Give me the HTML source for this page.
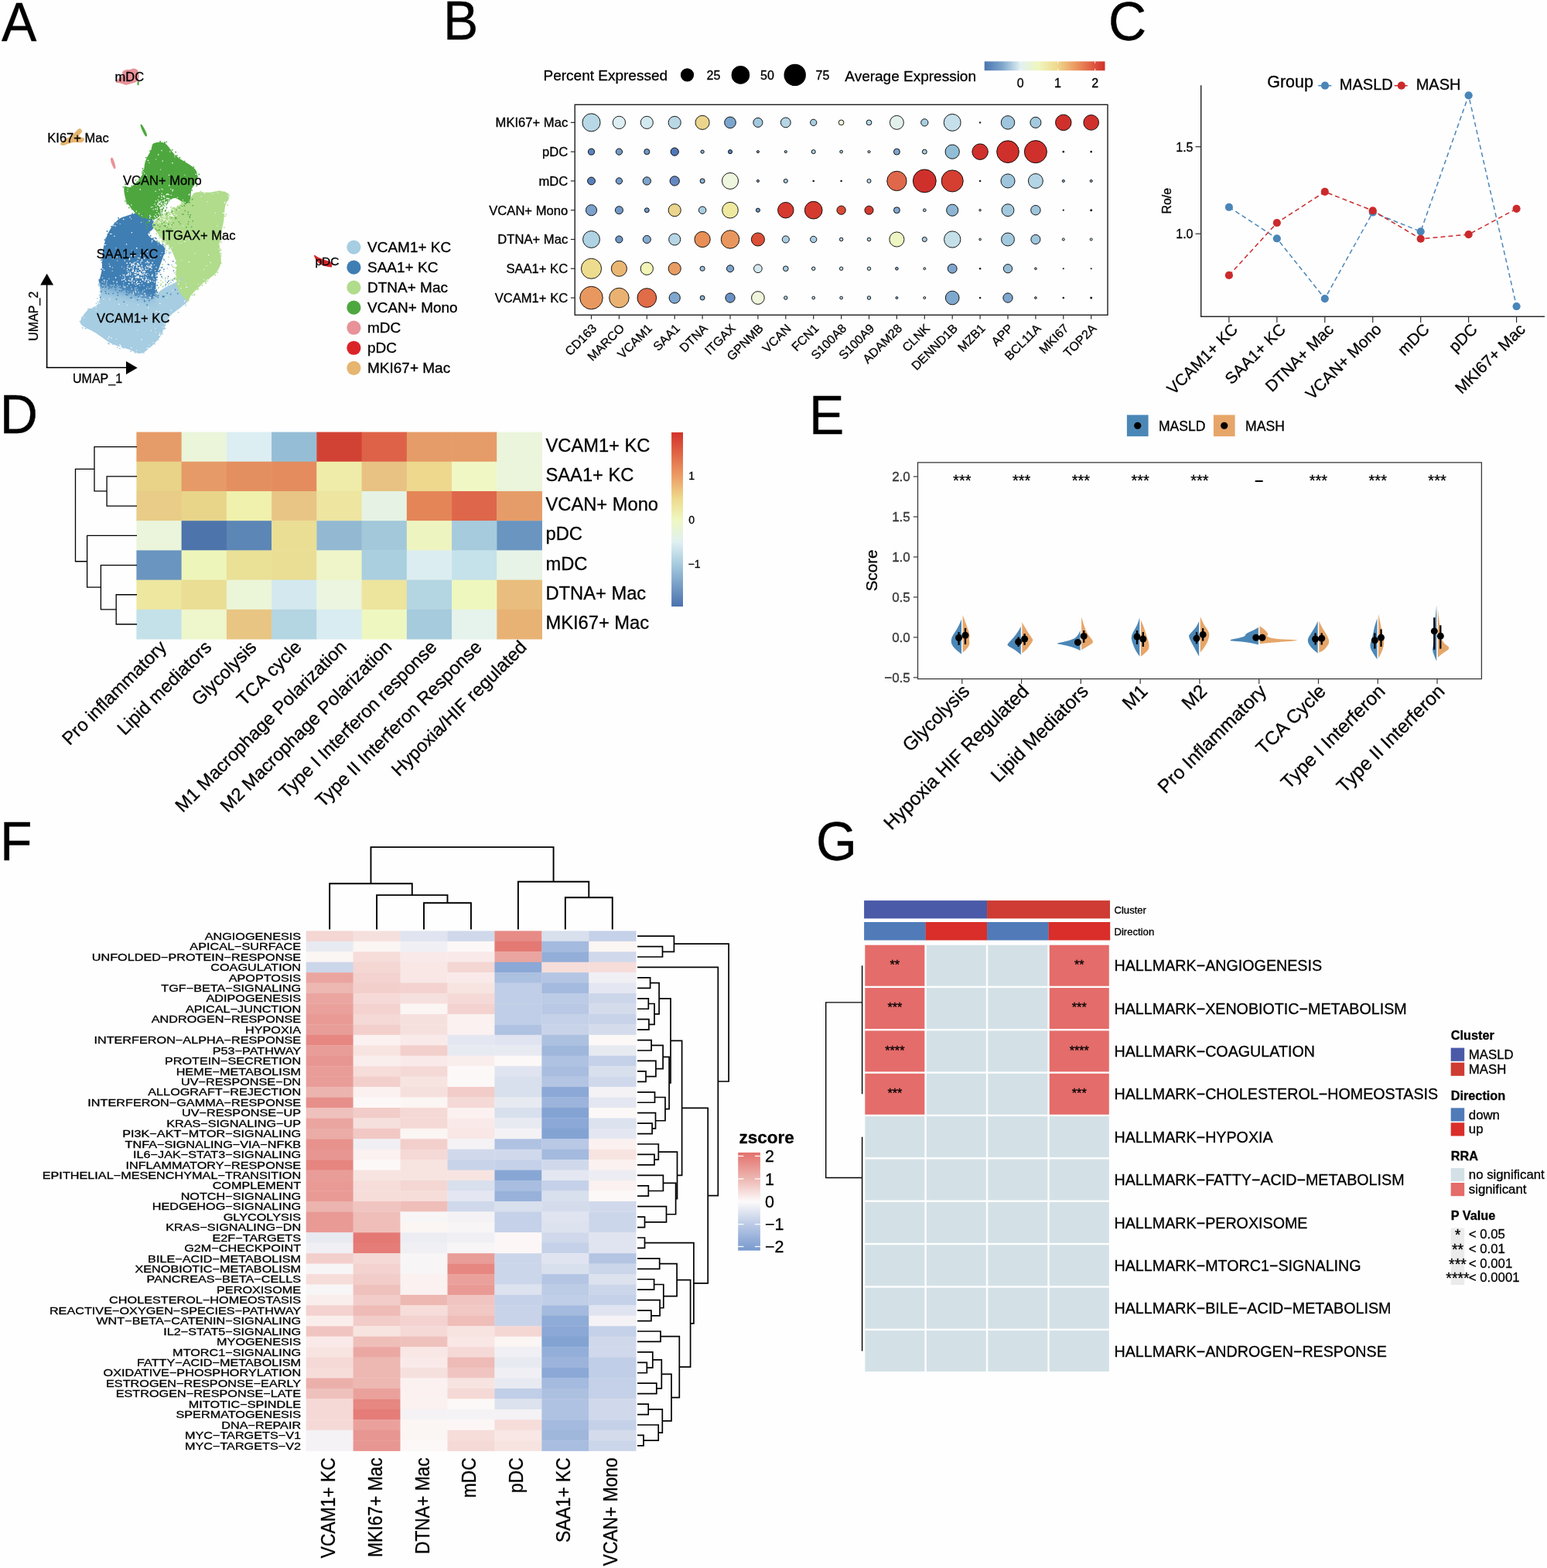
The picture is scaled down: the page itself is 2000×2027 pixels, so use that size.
<!DOCTYPE html>
<html><head><meta charset="utf-8"><title>Figure</title>
<style>html,body{margin:0;padding:0;background:#fff;}svg{display:block;}
text{font-family:'Liberation Sans', Arial, sans-serif;stroke:currentColor;stroke-width:0.3px;}</style></head>
<body><svg width="2000" height="2027" viewBox="0 0 2000 2027">
<rect width="2000" height="2027" fill="#fefefe"/>
<text transform="translate(2,52.8) scale(1,1.04)" font-size="68">A</text>
<text transform="translate(573,51.3) scale(1,1.04)" font-size="68">B</text>
<text transform="translate(1433,52) scale(1,1.04)" font-size="68">C</text>
<text transform="translate(-0.2,560.1) scale(1,1.04)" font-size="68">D</text>
<text transform="translate(1046,561.4) scale(1,1.04)" font-size="68">E</text>
<text transform="translate(0,1111.5) scale(1,1.04)" font-size="68">F</text>
<text transform="translate(1055,1111.5) scale(1,1.04)" font-size="68">G</text>
<path d="M129.86,362.83C133.18,360.71 142.84,364.34 149.78,366.45C156.73,368.56 164.58,372.19 171.52,375.51C178.47,378.83 186.32,385.47 191.45,386.38C196.58,387.28 199.6,382.75 202.32,380.94C205.04,379.13 204.73,377.62 207.75,375.51C210.77,373.39 215.91,370.37 220.43,368.26C224.96,366.15 231,362.22 234.93,362.83C238.85,363.43 242.17,368.56 243.99,371.88C245.8,375.21 246.7,379.13 245.8,382.75C244.89,386.38 242.78,389.4 238.55,393.62C234.32,397.85 224.66,403.29 220.43,408.12C216.21,412.95 215.6,417.78 213.19,422.61C210.77,427.44 209.57,432.27 205.94,437.1C202.32,441.93 195.68,448.27 191.45,451.59C187.22,454.92 184.81,457.03 180.58,457.03C176.35,457.03 172.13,453.71 166.09,451.59C160.05,449.48 151.59,447.97 144.35,444.35C137.1,440.72 128.95,433.78 122.61,429.86C116.27,425.93 109.32,423.51 106.3,420.8C103.29,418.08 103.29,416.87 104.49,413.55C105.7,410.23 109.93,404.19 113.55,400.87C117.17,397.55 123.51,397.25 126.23,393.62C128.95,390 129.25,384.26 129.86,379.13C130.46,374 126.53,364.94 129.86,362.83Z" fill="#a6cde2"/>
<path d="M162.46,279.49C167.29,277.98 175.14,275.57 180.58,275.87C186.01,276.17 192.05,278.29 195.07,281.3C198.09,284.32 199.3,290.36 198.7,293.99C198.09,297.61 190.85,300.02 191.45,303.04C192.05,306.06 198.7,309.08 202.32,312.1C205.94,315.12 211.98,317.23 213.19,321.16C214.4,325.08 211.38,329.61 209.57,335.65C207.75,341.69 203.83,349.54 202.32,357.39C200.81,365.24 202.32,377.92 200.51,382.75C198.7,387.58 195.37,386.68 191.45,386.38C187.52,386.07 181.79,382.75 176.96,380.94C172.13,379.13 167.9,377.62 162.46,375.51C157.03,373.39 149.93,369.62 144.35,368.26C138.76,366.9 131.06,370.68 128.95,367.36C126.84,364.03 130.91,356.03 131.67,348.33C132.42,340.63 131.97,329.31 133.48,321.16C134.99,313.01 137.71,305.46 140.72,299.42C143.74,293.38 147.97,288.25 151.59,284.93C155.22,281.61 157.63,281 162.46,279.49Z" fill="#3f7eb3"/>
<path d="M253.04,248.7C257.27,247.49 265.72,249 271.16,248.7C276.59,248.39 281.43,246.28 285.65,246.88C289.88,247.49 295.62,249 296.52,252.32C297.43,255.64 292.29,261.38 291.09,266.81C289.88,272.25 290.18,278.89 289.28,284.93C288.37,290.97 286.56,297 285.65,303.04C284.75,309.08 283.84,315.12 283.84,321.16C283.84,327.2 286.56,333.84 285.65,339.28C284.75,344.71 282.03,349.54 278.41,353.77C274.78,358 269.05,360.11 263.91,364.64C258.78,369.17 251.23,377.02 247.61,380.94C243.99,384.87 244.89,389.09 242.17,388.19C239.46,387.28 233.72,380.64 231.3,375.51C228.89,370.37 228.29,363.43 227.68,357.39C227.08,351.35 228.89,345.31 227.68,339.28C226.47,333.24 222.85,325.39 220.43,321.16C218.02,316.93 216.21,317.54 213.19,313.91C210.17,310.29 205.04,303.35 202.32,299.42C199.6,295.5 196.28,293.38 196.88,290.36C197.49,287.34 202.02,284.63 205.94,281.3C209.87,277.98 215.6,273.45 220.43,270.43C225.27,267.42 230.7,265.6 234.93,263.19C239.15,260.77 242.78,258.36 245.8,255.94C248.82,253.53 248.82,249.9 253.04,248.7Z" fill="#b0dc8c"/>
<path d="M198.7,185.29C201.71,183.78 208.36,182.57 213.19,185.29C218.02,188.01 221.64,196.46 227.68,201.59C233.72,206.73 244.89,212.16 249.42,216.09C253.95,220.01 254.25,221.82 254.86,225.14C255.46,228.47 254.25,232.69 253.04,236.01C251.84,239.34 248.82,241.45 247.61,245.07C246.4,248.7 247,254.73 245.8,257.75C244.59,260.77 243.68,263.49 240.36,263.19C237.04,262.89 229.79,255.94 225.87,255.94C221.94,255.94 219.83,259.57 216.81,263.19C213.79,266.81 210.77,274.36 207.75,277.68C204.73,281 203.22,282.81 198.7,283.12C194.17,283.42 185.71,282.21 180.58,279.49C175.45,276.78 170.92,270.43 167.9,266.81C164.88,263.19 163.67,261.98 162.46,257.75C161.26,253.53 159.44,244.17 160.65,241.45C161.86,238.73 165.79,244.17 169.71,241.45C173.64,238.73 181.18,230.58 184.2,225.14C187.22,219.71 186.01,213.97 187.83,208.84C189.64,203.71 193.26,198.27 195.07,194.35C196.88,190.42 195.68,186.8 198.7,185.29Z" fill="#4ea73e"/>
<defs><clipPath id="cvs"><path d="M129.86,362.83C133.18,360.71 142.84,364.34 149.78,366.45C156.73,368.56 164.58,372.19 171.52,375.51C178.47,378.83 186.32,385.47 191.45,386.38C196.58,387.28 199.6,382.75 202.32,380.94C205.04,379.13 204.73,377.62 207.75,375.51C210.77,373.39 215.91,370.37 220.43,368.26C224.96,366.15 231,362.22 234.93,362.83C238.85,363.43 242.17,368.56 243.99,371.88C245.8,375.21 246.7,379.13 245.8,382.75C244.89,386.38 242.78,389.4 238.55,393.62C234.32,397.85 224.66,403.29 220.43,408.12C216.21,412.95 215.6,417.78 213.19,422.61C210.77,427.44 209.57,432.27 205.94,437.1C202.32,441.93 195.68,448.27 191.45,451.59C187.22,454.92 184.81,457.03 180.58,457.03C176.35,457.03 172.13,453.71 166.09,451.59C160.05,449.48 151.59,447.97 144.35,444.35C137.1,440.72 128.95,433.78 122.61,429.86C116.27,425.93 109.32,423.51 106.3,420.8C103.29,418.08 103.29,416.87 104.49,413.55C105.7,410.23 109.93,404.19 113.55,400.87C117.17,397.55 123.51,397.25 126.23,393.62C128.95,390 129.25,384.26 129.86,379.13C130.46,374 126.53,364.94 129.86,362.83Z"/><path d="M162.46,279.49C167.29,277.98 175.14,275.57 180.58,275.87C186.01,276.17 192.05,278.29 195.07,281.3C198.09,284.32 199.3,290.36 198.7,293.99C198.09,297.61 190.85,300.02 191.45,303.04C192.05,306.06 198.7,309.08 202.32,312.1C205.94,315.12 211.98,317.23 213.19,321.16C214.4,325.08 211.38,329.61 209.57,335.65C207.75,341.69 203.83,349.54 202.32,357.39C200.81,365.24 202.32,377.92 200.51,382.75C198.7,387.58 195.37,386.68 191.45,386.38C187.52,386.07 181.79,382.75 176.96,380.94C172.13,379.13 167.9,377.62 162.46,375.51C157.03,373.39 149.93,369.62 144.35,368.26C138.76,366.9 131.06,370.68 128.95,367.36C126.84,364.03 130.91,356.03 131.67,348.33C132.42,340.63 131.97,329.31 133.48,321.16C134.99,313.01 137.71,305.46 140.72,299.42C143.74,293.38 147.97,288.25 151.59,284.93C155.22,281.61 157.63,281 162.46,279.49Z"/></clipPath><linearGradient id="gT" gradientUnits="userSpaceOnUse" x1="166.47" y1="368.32" x2="161.22" y2="392.77"><stop offset="0" stop-color="#3f7eb3" stop-opacity="0"/><stop offset="0.25" stop-color="#5a92c1" stop-opacity="0.55"/><stop offset="0.45" stop-color="#77a9d0" stop-opacity="0.75"/><stop offset="1" stop-color="#a6cde2" stop-opacity="0"/></linearGradient></defs>
<defs><linearGradient id="gM" gradientUnits="userSpaceOnUse" x1="188" y1="0" x2="204" y2="0"><stop offset="0" stop-color="#fff"/><stop offset="1" stop-color="#000"/></linearGradient><mask id="mT" maskUnits="userSpaceOnUse" x="100" y="330" width="130" height="90"><rect x="100" y="330" width="130" height="90" fill="url(#gM)"/></mask></defs>
<g mask="url(#mT)"><path clip-path="url(#cvs)" fill="url(#gT)" d="M124,358.35 L205,375.76 L205,403.76 L124,386.35 Z"/></g>
<path fill="#a6cde2" d="M150.46,363.4h1.6v1.6h-1.6zM139.22,442.74h1.6v1.6h-1.6zM216.79,368.87h1.6v1.6h-1.6zM102.6,414.65h1.6v1.6h-1.6zM174.36,376.21h1.6v1.6h-1.6zM113.09,398.86h1.6v1.6h-1.6zM134.02,361.21h1.6v1.6h-1.6zM150.19,364.37h1.6v1.6h-1.6zM244.17,370.89h1.6v1.6h-1.6zM133.55,361.51h1.6v1.6h-1.6zM127.66,380.85h1.6v1.6h-1.6zM238.78,391.68h1.6v1.6h-1.6zM154.08,449.7h1.6v1.6h-1.6zM114.83,398.43h1.6v1.6h-1.6zM105.78,423.07h1.6v1.6h-1.6zM238.63,364.72h1.6v1.6h-1.6zM125.77,389.65h1.6v1.6h-1.6zM134.38,361.99h1.6v1.6h-1.6zM203.78,438.45h1.6v1.6h-1.6zM158.61,449.03h1.6v1.6h-1.6zM232.34,360.6h1.6v1.6h-1.6zM123.72,391.56h1.6v1.6h-1.6zM193.7,383.58h1.6v1.6h-1.6zM169.43,372.79h1.6v1.6h-1.6zM199.03,443.93h1.6v1.6h-1.6zM110.95,423.13h1.6v1.6h-1.6zM233.7,361.49h1.6v1.6h-1.6zM217.13,415.47h1.6v1.6h-1.6zM168.46,453.31h1.6v1.6h-1.6zM216.84,415.96h1.6v1.6h-1.6zM128.41,376.49h1.6v1.6h-1.6zM137.62,361.9h1.6v1.6h-1.6zM126.68,366.58h1.6v1.6h-1.6zM247.76,380.69h1.6v1.6h-1.6zM212.85,368.8h1.6v1.6h-1.6zM140.17,443.83h1.6v1.6h-1.6zM199.47,379.61h1.6v1.6h-1.6zM178.31,377.02h1.6v1.6h-1.6zM126.92,368.52h1.6v1.6h-1.6zM229.78,402.99h1.6v1.6h-1.6zM235.65,359.12h1.6v1.6h-1.6zM145.15,444.1h1.6v1.6h-1.6zM161.07,370.44h1.6v1.6h-1.6zM213.09,368.93h1.6v1.6h-1.6zM220.12,364.37h1.6v1.6h-1.6zM124.99,385.27h1.6v1.6h-1.6zM192.29,383.51h1.6v1.6h-1.6zM173.68,455.09h1.6v1.6h-1.6zM139.96,443.37h1.6v1.6h-1.6zM209.29,430.85h1.6v1.6h-1.6zM239.42,393.95h1.6v1.6h-1.6zM174.27,374.12h1.6v1.6h-1.6zM128.87,366.72h1.6v1.6h-1.6zM184.96,455.41h1.6v1.6h-1.6zM150.97,448.49h1.6v1.6h-1.6zM158.87,369.7h1.6v1.6h-1.6zM211.57,424.35h1.6v1.6h-1.6zM109.46,423.99h1.6v1.6h-1.6zM213.04,423.71h1.6v1.6h-1.6zM105.35,409.62h1.6v1.6h-1.6zM163.97,368.74h1.6v1.6h-1.6zM224.55,368.22h1.5v1.5h-1.5zM223.58,376.09h1.5v1.5h-1.5zM218,341.52h1.5v1.5h-1.5zM206.71,345.09h1.5v1.5h-1.5zM200.85,375.83h1.5v1.5h-1.5zM231.14,382.51h1.5v1.5h-1.5zM209.71,369.92h1.5v1.5h-1.5zM216.24,374.89h1.5v1.5h-1.5zM203.79,382.72h1.5v1.5h-1.5zM224.89,352.02h1.5v1.5h-1.5zM218.91,380.52h1.5v1.5h-1.5zM217.66,362.28h1.5v1.5h-1.5zM213.24,362.49h1.5v1.5h-1.5zM219.39,325.47h1.5v1.5h-1.5zM213.55,381.68h1.5v1.5h-1.5zM212.67,318.03h1.5v1.5h-1.5zM206.81,368.02h1.5v1.5h-1.5zM209.31,344.28h1.5v1.5h-1.5zM228.78,371.06h1.5v1.5h-1.5zM210.39,333.52h1.5v1.5h-1.5zM218.04,327.08h1.5v1.5h-1.5zM210.99,349.91h1.5v1.5h-1.5zM204.79,312.16h1.5v1.5h-1.5zM217.83,321.14h1.5v1.5h-1.5zM213.05,337.26h1.5v1.5h-1.5zM212.82,359.69h1.5v1.5h-1.5zM205.84,351.65h1.5v1.5h-1.5zM224.14,375.11h1.5v1.5h-1.5zM216,359.57h1.5v1.5h-1.5zM207.01,348.46h1.5v1.5h-1.5zM209.52,313.03h1.5v1.5h-1.5zM214.25,325.64h1.5v1.5h-1.5zM203.59,371.71h1.5v1.5h-1.5zM215.61,346.03h1.5v1.5h-1.5zM228.91,380.02h1.5v1.5h-1.5zM208.83,358.48h1.5v1.5h-1.5zM226.04,339.05h1.5v1.5h-1.5zM212.29,373.79h1.5v1.5h-1.5zM208.79,344.98h1.5v1.5h-1.5zM223.32,362.78h1.5v1.5h-1.5zM221.03,341.7h1.5v1.5h-1.5zM224.76,367.51h1.5v1.5h-1.5zM203.88,364.39h1.5v1.5h-1.5zM202.96,312.01h1.5v1.5h-1.5zM217.44,376.94h1.5v1.5h-1.5zM220.15,325.96h1.5v1.5h-1.5zM202.56,378.72h1.5v1.5h-1.5zM174.99,367.93h1.4v1.4h-1.4zM194.6,380.71h1.4v1.4h-1.4zM175.53,371.28h1.4v1.4h-1.4zM185.99,374.14h1.4v1.4h-1.4zM183.38,376.9h1.4v1.4h-1.4zM152.44,369.64h1.4v1.4h-1.4zM160.62,371.15h1.4v1.4h-1.4zM159.02,364.93h1.4v1.4h-1.4zM184.19,375.15h1.4v1.4h-1.4zM173.45,366.23h1.4v1.4h-1.4zM131.78,358.37h1.4v1.4h-1.4zM192.3,372.24h1.4v1.4h-1.4zM150.95,367.84h1.4v1.4h-1.4zM140.24,359.58h1.4v1.4h-1.4zM180.02,368.64h1.4v1.4h-1.4zM146.88,367.51h1.4v1.4h-1.4zM160.9,370.03h1.4v1.4h-1.4zM154.57,369.15h1.4v1.4h-1.4zM195.69,369.12h1.4v1.4h-1.4zM159.7,370.35h1.4v1.4h-1.4zM131.59,363.58h1.4v1.4h-1.4zM177.03,373.78h1.4v1.4h-1.4zM185.29,368.52h1.4v1.4h-1.4zM194.61,371.87h1.4v1.4h-1.4zM144.56,349.72h1.4v1.4h-1.4z"/>
<path fill="#ffffff" d="M189.73,449.43h1.3v1.3h-1.3zM128.65,411.06h1v1h-1zM191.15,397.18h1.3v1.3h-1.3zM123.81,400.66h1v1h-1zM235.47,394.52h1v1h-1zM205.91,431.77h1v1h-1zM133.23,371.83h1v1h-1zM188.46,413.26h1v1h-1zM179.56,384.9h1v1h-1zM169.1,448.92h1.3v1.3h-1.3zM200.93,429.08h1v1h-1zM210.18,422.28h1v1h-1zM220.53,400.45h1.3v1.3h-1.3zM159.5,406.07h1.3v1.3h-1.3zM126.91,411.99h1v1h-1zM154.75,447.23h1.3v1.3h-1.3zM127.96,391.56h1.3v1.3h-1.3zM191.55,449.6h1.3v1.3h-1.3zM229.95,366.32h1.3v1.3h-1.3zM197.45,442.22h1v1h-1zM140.54,434.84h1.3v1.3h-1.3zM141.51,385.25h1v1h-1zM210.5,426.2h1v1h-1zM205.99,432.11h1.3v1.3h-1.3zM182.25,438.23h1.3v1.3h-1.3zM108,409.87h1v1h-1zM238.87,388.11h1v1h-1zM206.09,430.11h1v1h-1zM201.53,401.84h1.3v1.3h-1.3zM155.41,445.63h1v1h-1zM133.57,386.06h1v1h-1zM222.88,374.93h1v1h-1zM206.85,412.37h1v1h-1zM192.25,445.73h1v1h-1zM154.1,445.28h1v1h-1zM176.03,452.46h1v1h-1zM182.96,381.82h1.3v1.3h-1.3zM177.42,426.16h1v1h-1zM153.09,392.74h1.3v1.3h-1.3zM150.05,438.03h1v1h-1zM164.05,394.07h1v1h-1zM240.55,370.62h1.3v1.3h-1.3zM237.81,388.96h1.3v1.3h-1.3zM138.93,437.16h1.3v1.3h-1.3zM117.92,397.73h1.3v1.3h-1.3zM171.6,378.55h1.3v1.3h-1.3zM143.5,436.51h1.3v1.3h-1.3zM172.04,379.28h1v1h-1zM194.93,427.04h1v1h-1zM123.53,396.51h1.3v1.3h-1.3zM155.95,447.36h1v1h-1zM132.16,368.57h1v1h-1zM233.1,371.98h1.3v1.3h-1.3zM187.52,386.04h1.3v1.3h-1.3zM137.39,364.58h1v1h-1zM171.66,386.68h1v1h-1zM141.3,387.34h1v1h-1zM215.65,383.96h1.3v1.3h-1.3zM193.42,384.87h1.3v1.3h-1.3zM177.73,393.59h1v1h-1zM198.31,383.08h1.3v1.3h-1.3zM206.25,391.82h1.3v1.3h-1.3zM155.21,446.27h1v1h-1zM200.45,424.47h1v1h-1zM136.08,368.98h1v1h-1zM205.23,402.62h1.3v1.3h-1.3zM205.14,432.67h1.3v1.3h-1.3zM212.46,417.95h1.3v1.3h-1.3zM154.68,289h1v1h-1zM150.55,331.5h1.3v1.3h-1.3zM184.12,347.09h1.3v1.3h-1.3zM148.67,291.46h1.3v1.3h-1.3zM201.06,352.14h1.3v1.3h-1.3zM137.31,328.86h1v1h-1zM135.55,315.74h1.3v1.3h-1.3zM177.65,332.76h1v1h-1zM146.02,363.16h1.3v1.3h-1.3zM169.76,300.02h1.3v1.3h-1.3zM147.21,304.63h1.3v1.3h-1.3zM142.17,301.76h1.3v1.3h-1.3zM169.15,282.58h1v1h-1zM158.34,354.58h1v1h-1zM175.81,342.61h1v1h-1zM175,376.71h1.3v1.3h-1.3zM192.53,284.87h1.3v1.3h-1.3zM198.83,341.88h1v1h-1zM146.5,290.96h1.3v1.3h-1.3zM207.31,329.74h1v1h-1zM182.08,287.11h1v1h-1zM160.65,336.24h1.3v1.3h-1.3zM134.52,316.21h1v1h-1zM162.9,315.18h1.3v1.3h-1.3zM204.15,315.58h1v1h-1zM144.88,345.56h1v1h-1zM159.08,282.86h1.3v1.3h-1.3zM145.64,333.74h1.3v1.3h-1.3zM132.11,347.02h1.3v1.3h-1.3zM193.31,281.64h1v1h-1zM167.37,279.92h1.3v1.3h-1.3zM199.04,363.86h1.3v1.3h-1.3zM134.22,364.55h1v1h-1zM151.1,336.59h1v1h-1zM187.53,381.4h1.3v1.3h-1.3zM150.7,287.65h1v1h-1zM137.35,366.42h1v1h-1zM191.65,338.84h1.3v1.3h-1.3zM209.02,325.9h1v1h-1zM181.45,381.32h1v1h-1zM196,310.58h1.3v1.3h-1.3zM149.5,320.14h1v1h-1zM140.65,340.76h1v1h-1zM143.59,302.03h1v1h-1zM133.95,348.75h1.3v1.3h-1.3zM195.71,312.56h1v1h-1zM221.21,279.25h1.3v1.3h-1.3zM211.72,283.01h1v1h-1zM290.35,260.7h1.3v1.3h-1.3zM259.69,253.18h1v1h-1zM231.51,362.72h1v1h-1zM280.35,291.45h1v1h-1zM271.66,338.77h1.3v1.3h-1.3zM215.59,284.77h1.3v1.3h-1.3zM233.07,372.28h1v1h-1zM227.7,342.86h1.3v1.3h-1.3zM236.6,291.62h1v1h-1zM247.56,257.02h1v1h-1zM213.32,312.08h1.3v1.3h-1.3zM221.95,320.05h1v1h-1zM243.85,309.28h1.3v1.3h-1.3zM277.02,306.17h1.3v1.3h-1.3zM240.27,307.92h1v1h-1zM264.44,249.85h1v1h-1zM263.57,248.32h1.3v1.3h-1.3zM277.81,274.64h1v1h-1zM239.7,366.24h1v1h-1zM238.3,311.72h1.3v1.3h-1.3zM267.6,260.19h1v1h-1zM246.59,307.72h1v1h-1zM289.63,261.91h1v1h-1zM283.06,315.24h1.3v1.3h-1.3zM251.71,326.94h1v1h-1zM266.8,342.94h1v1h-1zM263.52,360.39h1v1h-1zM238.64,260.92h1.3v1.3h-1.3zM288.43,274.67h1.3v1.3h-1.3zM287.82,274.84h1.3v1.3h-1.3zM283.24,313.57h1v1h-1zM274.39,249.91h1v1h-1zM280.86,248.75h1v1h-1zM234.47,335.67h1v1h-1zM282.11,321.7h1v1h-1zM243.64,338.06h1.3v1.3h-1.3zM294.53,252.83h1.3v1.3h-1.3zM216.88,315.96h1.3v1.3h-1.3zM220,291.6h1v1h-1zM233.64,314.04h1v1h-1zM255.69,366.75h1v1h-1zM227.01,335.89h1v1h-1zM230.22,313.55h1v1h-1zM269.04,328.95h1.3v1.3h-1.3zM263.23,348h1v1h-1zM225.85,267.06h1v1h-1zM236.3,261.75h1v1h-1zM207.1,218.68h1v1h-1zM252.7,224.71h1.3v1.3h-1.3zM198.86,278.88h1.3v1.3h-1.3zM188.41,225.96h1.3v1.3h-1.3zM190.81,206.87h1.3v1.3h-1.3zM204.03,199.33h1.3v1.3h-1.3zM217.87,225.81h1.3v1.3h-1.3zM186.04,223.42h1.3v1.3h-1.3zM192.54,210.03h1v1h-1zM178.2,233.03h1.3v1.3h-1.3zM209.62,207.54h1.3v1.3h-1.3zM208.42,193.98h1.3v1.3h-1.3zM222.26,210.12h1.3v1.3h-1.3zM218.08,239.08h1.3v1.3h-1.3zM182.99,278.33h1v1h-1zM179,275.51h1.3v1.3h-1.3zM243.7,251.26h1.3v1.3h-1.3zM193.61,237.26h1v1h-1zM238.45,225.64h1v1h-1zM225.34,202.52h1v1h-1zM180.6,244.33h1.3v1.3h-1.3zM209.92,244.73h1v1h-1zM200.11,280.41h1.3v1.3h-1.3zM221.84,230.19h1.3v1.3h-1.3zM222.66,246.78h1v1h-1zM244.24,250.44h1.3v1.3h-1.3zM192.75,279.78h1v1h-1zM175.69,272.57h1.3v1.3h-1.3zM207.47,271.72h1v1h-1zM225.12,200.22h1v1h-1zM180.99,228.7h1v1h-1zM164.68,243.93h1v1h-1zM235.92,257.92h1v1h-1zM175.97,238.7h1v1h-1zM193.2,280.54h1v1h-1zM194.08,279.06h1.3v1.3h-1.3zM164.38,246.86h1v1h-1zM219.04,195.39h1.3v1.3h-1.3zM169.15,264.19h1.3v1.3h-1.3zM201.15,205.51h1v1h-1zM178.29,358.77h0.9v0.9h-0.9zM173.13,329.97h0.9v0.9h-0.9zM170.74,356.54h0.9v0.9h-0.9zM187.68,339.03h1.2v1.2h-1.2zM141.45,343.7h1.5v1.5h-1.5zM192.72,344.84h1.2v1.2h-1.2zM182.17,349.2h1.5v1.5h-1.5zM190.64,353.01h0.9v0.9h-0.9zM187.53,347.37h1.5v1.5h-1.5zM172.95,338.77h1.5v1.5h-1.5zM160.61,357.6h1.2v1.2h-1.2zM167.73,351.47h1.2v1.2h-1.2zM181.28,328.94h1.5v1.5h-1.5zM165.91,349.99h0.9v0.9h-0.9zM188.81,358.4h1.2v1.2h-1.2zM167.43,339.26h1.5v1.5h-1.5zM177.68,353.12h0.9v0.9h-0.9zM168.91,345.69h1.2v1.2h-1.2zM173.48,354.65h1.2v1.2h-1.2zM180.12,366.21h0.9v0.9h-0.9zM166.77,333.82h1.5v1.5h-1.5zM176.53,337.97h0.9v0.9h-0.9zM180.91,362.99h1.2v1.2h-1.2zM186.27,349.83h1.2v1.2h-1.2zM170.55,350.46h1.2v1.2h-1.2zM191.68,338.8h1.5v1.5h-1.5zM201.38,344.94h1.2v1.2h-1.2zM145.3,331.96h1.5v1.5h-1.5zM190.59,341.46h0.9v0.9h-0.9zM168.81,370.29h0.9v0.9h-0.9zM195.3,349.16h0.9v0.9h-0.9zM193.45,361.39h0.9v0.9h-0.9zM177.93,345.75h0.9v0.9h-0.9zM171.62,344.13h1.5v1.5h-1.5zM198.82,360.73h0.9v0.9h-0.9zM192.32,343.23h1.2v1.2h-1.2zM182.8,358.4h1.2v1.2h-1.2zM186.05,350.13h0.9v0.9h-0.9zM181.22,353.13h1.5v1.5h-1.5zM171.75,349.74h1.2v1.2h-1.2zM163.42,339.4h1.5v1.5h-1.5zM183.54,353.12h0.9v0.9h-0.9zM165.37,352.72h1.5v1.5h-1.5zM189.01,372.41h1.2v1.2h-1.2zM187.46,357.5h1.2v1.2h-1.2zM157.17,344.62h0.9v0.9h-0.9zM177.79,358.03h1.2v1.2h-1.2zM169.26,343.06h1.2v1.2h-1.2zM191.85,364.64h1.2v1.2h-1.2zM176.89,366.54h1.5v1.5h-1.5zM171.63,349.23h1.2v1.2h-1.2zM164.87,342.76h1.2v1.2h-1.2zM187.44,360.97h0.9v0.9h-0.9zM178.09,349.17h1.2v1.2h-1.2zM173.22,351.15h1.5v1.5h-1.5zM176.4,356.63h1.2v1.2h-1.2zM165.07,350.9h0.9v0.9h-0.9zM197.05,363.04h0.9v0.9h-0.9zM181.82,358.34h1.5v1.5h-1.5zM176.5,352.64h1.2v1.2h-1.2zM171.8,344.95h1.2v1.2h-1.2zM160.96,359.84h1.2v1.2h-1.2zM163.89,344.84h1.2v1.2h-1.2zM179.29,351.89h1.5v1.5h-1.5zM176.18,343.14h1.5v1.5h-1.5zM165.81,361.86h1.5v1.5h-1.5zM187.21,362.95h1.2v1.2h-1.2zM194.35,333.65h1.2v1.2h-1.2zM190.31,364.68h1.2v1.2h-1.2zM175.03,358.48h1.2v1.2h-1.2zM166.81,347h1.2v1.2h-1.2zM168.96,330.73h0.9v0.9h-0.9zM177.47,336.25h1.2v1.2h-1.2zM189.71,337.16h1.5v1.5h-1.5zM185.29,355.49h0.9v0.9h-0.9zM185.52,350.33h1.2v1.2h-1.2zM196.32,338.73h1.5v1.5h-1.5zM198.59,334.62h0.9v0.9h-0.9zM180.08,346.53h1.2v1.2h-1.2zM189.83,337.97h1.5v1.5h-1.5zM174.94,354.48h1.5v1.5h-1.5zM201.17,354.79h1.2v1.2h-1.2zM169.08,329.36h1.5v1.5h-1.5zM182.95,365.45h1.2v1.2h-1.2zM159.99,346.68h0.9v0.9h-0.9zM166.61,334.96h1.2v1.2h-1.2zM190.97,347.48h0.9v0.9h-0.9zM164,349.75h0.9v0.9h-0.9zM167.18,346.15h1.2v1.2h-1.2zM183.92,350.66h1.5v1.5h-1.5zM171.49,348.71h1.5v1.5h-1.5zM177.22,351.94h0.9v0.9h-0.9zM173.92,354.36h0.9v0.9h-0.9zM165,354.55h1.5v1.5h-1.5zM164.65,354.12h0.9v0.9h-0.9zM177.28,342.68h0.9v0.9h-0.9zM175.52,360.85h0.9v0.9h-0.9zM185.62,352.9h1.5v1.5h-1.5zM203.2,352.16h0.9v0.9h-0.9zM176.68,358.26h1.2v1.2h-1.2zM183.26,346.42h0.9v0.9h-0.9zM172.19,340.37h1.2v1.2h-1.2zM167.62,362.68h1.2v1.2h-1.2zM171.06,341.92h0.9v0.9h-0.9zM163.83,347.78h1.2v1.2h-1.2zM181.83,347.21h1.5v1.5h-1.5zM190.14,355.67h0.9v0.9h-0.9zM169.64,362.54h1.5v1.5h-1.5zM201.05,356.72h1.2v1.2h-1.2zM194.3,342.37h1.2v1.2h-1.2zM170.06,323.46h0.9v0.9h-0.9zM188.75,353.12h0.9v0.9h-0.9zM193.93,362.76h1.5v1.5h-1.5zM172.72,362.7h1.5v1.5h-1.5zM186.58,350h1.5v1.5h-1.5zM181.82,358.23h0.9v0.9h-0.9zM191.42,345.4h1.2v1.2h-1.2zM175.08,348.59h1.5v1.5h-1.5zM176.28,364.12h1.2v1.2h-1.2zM177.85,340.36h1.5v1.5h-1.5zM159.64,355.05h1.5v1.5h-1.5zM179.43,344.97h1.5v1.5h-1.5zM183.18,336.73h1.2v1.2h-1.2zM179.14,357.63h0.9v0.9h-0.9zM168.23,352.9h1.2v1.2h-1.2zM188.04,360.24h0.9v0.9h-0.9zM195.34,345.95h1.5v1.5h-1.5zM184.82,358.17h1.2v1.2h-1.2zM185.98,332.94h1.5v1.5h-1.5zM190.59,328.66h0.9v0.9h-0.9zM189.15,347.88h1.2v1.2h-1.2zM183.52,359.96h1.5v1.5h-1.5zM180.48,351.17h1.5v1.5h-1.5zM167.74,354.36h1.5v1.5h-1.5zM159.33,360.51h1.5v1.5h-1.5zM174.88,352.09h1.2v1.2h-1.2zM183.88,361.04h1.5v1.5h-1.5zM184.07,346.81h1.2v1.2h-1.2zM171.2,346.91h1.5v1.5h-1.5zM167.35,358.61h1.2v1.2h-1.2zM157.88,358.13h0.9v0.9h-0.9zM178.91,358.45h1.2v1.2h-1.2zM181.99,355.05h1.2v1.2h-1.2zM174.71,357.68h1.2v1.2h-1.2zM192.31,355.21h0.9v0.9h-0.9zM182.96,344.43h1.2v1.2h-1.2zM170.32,359h1.2v1.2h-1.2zM173.45,353.88h0.9v0.9h-0.9zM171.86,376.77h0.9v0.9h-0.9zM195.84,342.39h1.2v1.2h-1.2zM185.28,354.87h0.9v0.9h-0.9zM194.39,343.95h1.2v1.2h-1.2zM177.98,357.02h0.9v0.9h-0.9zM165.94,366.04h1.5v1.5h-1.5zM156.93,361.34h1.5v1.5h-1.5zM161.62,362.39h1.5v1.5h-1.5zM181.48,340.06h0.9v0.9h-0.9zM199.96,373.77h0.9v0.9h-0.9zM188.12,353.91h1.5v1.5h-1.5zM174.36,330.07h0.9v0.9h-0.9zM182.88,331.75h0.9v0.9h-0.9zM176.92,362.96h1.2v1.2h-1.2zM165.3,345.79h1.2v1.2h-1.2zM175.98,319.95h1.5v1.5h-1.5zM159.31,368.2h0.9v0.9h-0.9zM181.94,337.11h0.9v0.9h-0.9zM188.58,360h1.5v1.5h-1.5zM169.67,360.37h1.5v1.5h-1.5zM181.36,353.03h1.5v1.5h-1.5zM186.46,351.63h1.2v1.2h-1.2zM179.98,354.05h1.5v1.5h-1.5zM190.07,343.8h1.5v1.5h-1.5zM186.24,353.32h0.9v0.9h-0.9zM180.56,352.63h1.5v1.5h-1.5zM175.15,338.55h0.9v0.9h-0.9zM183.06,354.48h1.5v1.5h-1.5zM174.68,328.18h1.5v1.5h-1.5zM187.43,344.98h1.2v1.2h-1.2zM170.36,361.17h1.2v1.2h-1.2zM180.14,347.77h1.2v1.2h-1.2zM177.07,339.99h1.2v1.2h-1.2zM148.84,358.17h1.5v1.5h-1.5zM169.48,341.67h1.5v1.5h-1.5zM181.11,338.2h1.2v1.2h-1.2zM170.32,349.72h1.2v1.2h-1.2zM189.84,324.71h1.2v1.2h-1.2zM164.97,355.54h0.9v0.9h-0.9zM178.05,355.94h1.5v1.5h-1.5zM178.95,351.59h1.5v1.5h-1.5zM190.93,363.26h1.5v1.5h-1.5zM191.54,360.48h0.9v0.9h-0.9zM189.08,343h1.2v1.2h-1.2zM173.23,342.13h1.5v1.5h-1.5zM177.47,352.45h1.2v1.2h-1.2zM174.16,371.99h0.9v0.9h-0.9zM181.23,358.44h1.2v1.2h-1.2zM186.02,362.85h0.9v0.9h-0.9zM169.14,346.07h0.9v0.9h-0.9zM177.45,342.35h0.9v0.9h-0.9zM170.15,365.05h1.5v1.5h-1.5zM190.54,370.4h0.9v0.9h-0.9zM176.71,357.54h0.9v0.9h-0.9zM175.13,350.55h1.5v1.5h-1.5zM172.23,340.79h0.9v0.9h-0.9zM170.46,358.88h1.5v1.5h-1.5zM167.75,339.59h0.9v0.9h-0.9zM182.76,334.87h1.5v1.5h-1.5zM178.86,341.85h1.5v1.5h-1.5zM178.48,366h1.2v1.2h-1.2zM193.67,344.74h1.5v1.5h-1.5zM186.46,378.83h1.5v1.5h-1.5zM195.89,355.97h1.5v1.5h-1.5zM190.62,361.23h1.2v1.2h-1.2zM176.06,344.9h1.5v1.5h-1.5zM177.32,341.14h0.9v0.9h-0.9zM181.27,347.85h1.2v1.2h-1.2zM164.02,339.67h0.9v0.9h-0.9zM184.89,349.68h0.9v0.9h-0.9zM180.28,344.92h1.5v1.5h-1.5zM171.87,341.2h1.5v1.5h-1.5zM196.21,354.41h1.5v1.5h-1.5zM200.01,349.25h1.2v1.2h-1.2zM193.25,362.29h1.2v1.2h-1.2zM179.1,333.02h1.5v1.5h-1.5zM162.92,355.1h1.5v1.5h-1.5zM162.58,329.36h1.5v1.5h-1.5zM179.95,352.05h0.9v0.9h-0.9zM194.18,349.59h0.9v0.9h-0.9zM182.67,342.61h1.5v1.5h-1.5zM179.14,341.97h1.2v1.2h-1.2zM194.65,341.64h1.5v1.5h-1.5zM154.9,355.77h0.9v0.9h-0.9zM176.19,357.01h1.5v1.5h-1.5zM169.92,340.31h1.5v1.5h-1.5zM183.99,361.29h1.5v1.5h-1.5zM187.82,361.67h1.2v1.2h-1.2zM197.8,359.55h0.9v0.9h-0.9zM175.91,365.06h1.2v1.2h-1.2zM177.72,340.36h1.2v1.2h-1.2zM211.59,266.77h1.2v1.2h-1.2zM216.71,250.19h1.2v1.2h-1.2zM220.92,278.24h1.2v1.2h-1.2zM218.52,271.72h1.2v1.2h-1.2zM212.41,272.49h1.2v1.2h-1.2zM200.58,246.83h1.2v1.2h-1.2zM196.65,266.92h1.2v1.2h-1.2zM213.05,272.1h1.2v1.2h-1.2zM210.82,283.7h1.2v1.2h-1.2zM210.41,274.78h1.2v1.2h-1.2zM220.01,258.47h1.2v1.2h-1.2zM202.13,278.46h1.2v1.2h-1.2zM216.34,272.1h1.2v1.2h-1.2zM207.36,260.34h1.2v1.2h-1.2zM208.26,252.28h1.2v1.2h-1.2zM211.67,262.28h1.2v1.2h-1.2zM212.54,260.9h1.2v1.2h-1.2zM218.25,271.66h1.2v1.2h-1.2zM207.19,274.48h1.2v1.2h-1.2zM220.76,275.96h1.2v1.2h-1.2zM197.94,285.94h1.2v1.2h-1.2zM200.3,269.55h1.2v1.2h-1.2zM216.79,255.93h1.2v1.2h-1.2zM211.87,264.14h1.2v1.2h-1.2zM228.8,254.67h1.2v1.2h-1.2zM215.93,265.62h1.2v1.2h-1.2zM214.74,275.04h1.2v1.2h-1.2zM215.85,273.56h1.2v1.2h-1.2zM221.01,274.28h1.2v1.2h-1.2zM217.8,261.56h1.2v1.2h-1.2zM220.58,251.86h1.2v1.2h-1.2zM200.91,259.36h1.2v1.2h-1.2zM213.21,279.77h1.2v1.2h-1.2zM213.02,266.78h1.2v1.2h-1.2zM218.82,266.83h1.2v1.2h-1.2zM201.1,265.62h1.2v1.2h-1.2zM209.8,268.02h1.2v1.2h-1.2zM227.49,266.22h1.2v1.2h-1.2zM207.22,267.75h1.2v1.2h-1.2zM219.46,267.67h1.2v1.2h-1.2zM225.06,265.48h1.2v1.2h-1.2zM219.5,277.8h1.2v1.2h-1.2zM220.4,272.77h1.2v1.2h-1.2zM214.97,266.79h1.2v1.2h-1.2zM195.06,267.21h1.2v1.2h-1.2zM219.64,273.09h1.2v1.2h-1.2zM217.65,250.96h1.2v1.2h-1.2zM204.42,264.81h1.2v1.2h-1.2zM203.28,263.96h1.2v1.2h-1.2zM223.59,265.63h1.2v1.2h-1.2zM214.21,273.86h1.2v1.2h-1.2zM203.03,268.2h1.2v1.2h-1.2zM214.93,260.49h1.2v1.2h-1.2zM214.51,271.04h1.2v1.2h-1.2zM213.52,265.17h1.2v1.2h-1.2zM220.93,268.05h1.2v1.2h-1.2zM220.25,243.65h1.2v1.2h-1.2zM212.72,275.72h1.2v1.2h-1.2zM216.3,270.44h1.2v1.2h-1.2zM217.53,282.47h1.2v1.2h-1.2zM210.68,253.89h1.2v1.2h-1.2zM214.12,261.44h1.2v1.2h-1.2zM221.85,265.24h1.2v1.2h-1.2zM212.2,283.6h1.2v1.2h-1.2zM213.42,269.08h1.2v1.2h-1.2zM213.63,262.69h1.2v1.2h-1.2zM226.8,266.44h1.2v1.2h-1.2zM204.11,287.57h1.2v1.2h-1.2zM206.03,261.27h1.2v1.2h-1.2zM210.22,286.31h1.2v1.2h-1.2zM209.01,262.55h1.2v1.2h-1.2zM211.17,274.42h1.2v1.2h-1.2zM205.62,286.05h1.2v1.2h-1.2zM204.72,261.48h1.2v1.2h-1.2zM213.3,264.17h1.2v1.2h-1.2zM203.67,257.87h1.2v1.2h-1.2zM227.52,277.58h1.2v1.2h-1.2zM212.09,267.49h1.2v1.2h-1.2zM220.48,265.89h1.2v1.2h-1.2zM222.38,245.18h1.2v1.2h-1.2zM218.87,268.91h1.2v1.2h-1.2zM207.51,267.83h1.2v1.2h-1.2zM211.81,259.1h1.2v1.2h-1.2zM206.27,268.66h1.2v1.2h-1.2zM214.92,256.33h1.2v1.2h-1.2zM202.71,279.38h1.2v1.2h-1.2zM193.06,277.8h1.2v1.2h-1.2zM215.52,270.31h1.2v1.2h-1.2zM208.57,249.6h1.2v1.2h-1.2zM219.48,269.98h1.2v1.2h-1.2zM211.9,253.15h1.2v1.2h-1.2zM203.36,262.78h1.2v1.2h-1.2zM219.76,258.85h1.2v1.2h-1.2zM209.96,271.64h1.2v1.2h-1.2zM206.92,281.75h1.2v1.2h-1.2zM217.56,260.74h1.2v1.2h-1.2zM215.23,292.22h1.2v1.2h-1.2zM219.94,270.39h1.2v1.2h-1.2zM204.35,275.06h1.2v1.2h-1.2zM223.65,270.78h1.2v1.2h-1.2zM218.02,268.86h1.2v1.2h-1.2zM202.26,272.85h1.2v1.2h-1.2zM217,279.67h1.2v1.2h-1.2zM217.43,268.19h1.2v1.2h-1.2zM212.43,270.77h1.2v1.2h-1.2zM216.62,256.37h1.2v1.2h-1.2zM217.13,258.51h1.2v1.2h-1.2zM211.83,266.64h1.2v1.2h-1.2zM218.96,264.25h1.2v1.2h-1.2zM204.86,253.74h1.2v1.2h-1.2zM208.03,271.96h1.2v1.2h-1.2zM214.47,251.2h1.2v1.2h-1.2zM219.42,262.5h1.2v1.2h-1.2zM209.01,276.45h1.2v1.2h-1.2zM204.74,259.84h1.2v1.2h-1.2zM218.1,256.25h1.2v1.2h-1.2zM213.23,282.92h1.2v1.2h-1.2zM215.53,250.49h1.2v1.2h-1.2zM219.15,272.72h1.2v1.2h-1.2zM217.6,260.24h1.2v1.2h-1.2zM214.43,269.51h1.2v1.2h-1.2zM212.92,265.27h1.2v1.2h-1.2zM209.01,275.63h1.2v1.2h-1.2zM217.12,276.12h1.2v1.2h-1.2zM213.15,263.94h1.2v1.2h-1.2zM208.71,279.33h1.2v1.2h-1.2zM206.83,259.49h1.2v1.2h-1.2zM212.01,275.64h1.2v1.2h-1.2zM220.74,263.2h1.2v1.2h-1.2zM211.52,277.26h1.2v1.2h-1.2zM220.21,275.18h1.2v1.2h-1.2zM222.86,262.69h1.2v1.2h-1.2zM226.87,267.85h1.2v1.2h-1.2zM214.01,269.7h1.2v1.2h-1.2zM211.88,278.33h1.2v1.2h-1.2zM234.58,267.87h1.2v1.2h-1.2zM212.6,268.08h1.2v1.2h-1.2zM205.48,244.75h1.2v1.2h-1.2zM217.48,268.17h1.2v1.2h-1.2zM218.36,273.12h1.2v1.2h-1.2zM212.12,268.93h1.2v1.2h-1.2zM225.02,263.81h1.2v1.2h-1.2zM211.34,279.81h1.2v1.2h-1.2zM200.94,269.54h1.2v1.2h-1.2zM214.46,289.82h1.2v1.2h-1.2zM212.26,254.87h1.2v1.2h-1.2zM204.11,262.1h1.2v1.2h-1.2zM227.96,270.1h1.2v1.2h-1.2zM208.76,267.86h1.2v1.2h-1.2zM206.33,278.55h1.2v1.2h-1.2zM214.45,261.26h1.2v1.2h-1.2zM197.7,285.26h1.2v1.2h-1.2zM219.85,270.89h1.2v1.2h-1.2zM224.12,263.27h1.2v1.2h-1.2zM205.81,266.2h1.2v1.2h-1.2zM223.99,273.79h1.2v1.2h-1.2zM211.93,270.38h1.2v1.2h-1.2zM216.33,266.64h1.2v1.2h-1.2zM202.82,270.11h1.2v1.2h-1.2zM206.63,265.04h1.2v1.2h-1.2zM213.04,260.67h1.2v1.2h-1.2zM211.21,258.45h1.2v1.2h-1.2zM226.79,263.62h1.2v1.2h-1.2zM215.94,286.1h1.2v1.2h-1.2zM207.4,270.22h1.2v1.2h-1.2zM216,271.87h1.2v1.2h-1.2zM218.21,268.85h1.2v1.2h-1.2zM205.31,276.26h1.2v1.2h-1.2zM222.26,259.65h1.2v1.2h-1.2zM229.82,262.42h1.2v1.2h-1.2zM217.3,261.91h1.2v1.2h-1.2zM222.42,270.67h1.2v1.2h-1.2zM200.13,286.22h1.2v1.2h-1.2zM230.1,270.78h1.2v1.2h-1.2zM211.27,280.69h1.2v1.2h-1.2zM212.3,257.21h1.2v1.2h-1.2zM215.3,250.34h1.2v1.2h-1.2zM222.58,279.01h1.2v1.2h-1.2zM226.4,265.85h1.2v1.2h-1.2zM205.48,260.77h1.2v1.2h-1.2zM220.74,274.06h1.2v1.2h-1.2zM211.93,273.68h1.2v1.2h-1.2zM218.3,264.46h1.2v1.2h-1.2zM217.84,284.27h1.2v1.2h-1.2zM199.42,263.36h1.2v1.2h-1.2zM220.35,284.62h1.2v1.2h-1.2zM200.7,276.56h1.2v1.2h-1.2zM208.5,262.15h1.2v1.2h-1.2zM211.31,270.83h1.2v1.2h-1.2zM210.82,266.26h1.2v1.2h-1.2zM217.87,263.49h1.2v1.2h-1.2zM210.47,275.44h1.2v1.2h-1.2zM197.61,270.26h1.2v1.2h-1.2zM219.17,271.34h1.2v1.2h-1.2zM205.26,264.6h1.2v1.2h-1.2zM219.54,259.43h1.2v1.2h-1.2zM208.25,255.77h1.2v1.2h-1.2zM208.12,274.37h1.2v1.2h-1.2zM214.25,271.68h1.2v1.2h-1.2zM223.57,264.06h1.2v1.2h-1.2zM223.4,279.05h1.2v1.2h-1.2zM207.3,272.39h1.2v1.2h-1.2zM214.85,260.08h1.2v1.2h-1.2zM208.4,253.06h1.2v1.2h-1.2zM211.34,262.67h1.2v1.2h-1.2zM221.88,277.78h1.2v1.2h-1.2zM208.24,262.01h1.2v1.2h-1.2zM221.6,263h1.2v1.2h-1.2zM217.85,266.98h1.2v1.2h-1.2zM223.02,244.64h1.2v1.2h-1.2zM215.67,272.67h1.2v1.2h-1.2zM207.35,268.74h1.2v1.2h-1.2zM210.58,265.17h1.2v1.2h-1.2zM216.45,268.3h1.2v1.2h-1.2zM218.31,272.66h1.2v1.2h-1.2zM215.62,255.85h1.2v1.2h-1.2zM218.25,277.79h1.2v1.2h-1.2zM231.21,265.17h1.2v1.2h-1.2zM220.49,277.92h1.2v1.2h-1.2zM225.41,276.54h1.2v1.2h-1.2zM208.92,278.73h1.2v1.2h-1.2zM219.95,262.33h1.2v1.2h-1.2zM212.41,270.2h1.2v1.2h-1.2zM208.31,255.66h1.2v1.2h-1.2zM212.16,263.99h1.2v1.2h-1.2zM210.44,273.53h1.2v1.2h-1.2zM215.29,271.03h1.2v1.2h-1.2zM215.3,285.09h1.2v1.2h-1.2zM219.83,258.25h1.2v1.2h-1.2zM210.67,274.62h1.2v1.2h-1.2zM216.51,264.56h1.2v1.2h-1.2zM226.07,281.81h1.2v1.2h-1.2zM210.87,289.54h1.2v1.2h-1.2zM212.52,271.36h1.2v1.2h-1.2zM207.45,283.52h1.2v1.2h-1.2zM219.43,257.8h1.2v1.2h-1.2zM205.99,265.63h1.2v1.2h-1.2zM204.12,284.99h1.2v1.2h-1.2zM210.77,270.07h1.2v1.2h-1.2zM207.57,262.92h1.2v1.2h-1.2zM206.55,287.19h1.2v1.2h-1.2zM209.44,258.73h1.2v1.2h-1.2zM217.36,264.75h1.2v1.2h-1.2zM221.47,289.27h1.2v1.2h-1.2zM222.18,276.98h1.2v1.2h-1.2zM212.65,271.54h1.2v1.2h-1.2zM223.94,262.68h1.2v1.2h-1.2zM211.29,272.94h1.2v1.2h-1.2zM210.95,252.68h1.2v1.2h-1.2zM212.85,269.81h1.2v1.2h-1.2zM208.1,276.43h1.2v1.2h-1.2zM209.37,281.91h1.2v1.2h-1.2zM208.58,268.53h1.2v1.2h-1.2zM209.73,266.08h1.2v1.2h-1.2zM208.54,243.72h1.2v1.2h-1.2zM213.9,272.97h1.2v1.2h-1.2zM208.8,264.19h1.2v1.2h-1.2zM219.71,274.29h1.2v1.2h-1.2zM217.54,279.91h1.2v1.2h-1.2zM208.44,267.2h1.2v1.2h-1.2z"/>
<path fill="#3f7eb3" d="M202.51,357.4h1.6v1.6h-1.6zM137.7,298.09h1.6v1.6h-1.6zM195.83,283.26h1.6v1.6h-1.6zM211.78,327.1h1.6v1.6h-1.6zM202.68,376.92h1.6v1.6h-1.6zM203.71,350.46h1.6v1.6h-1.6zM147.68,287.86h1.6v1.6h-1.6zM198.02,290.03h1.6v1.6h-1.6zM134.56,309.23h1.6v1.6h-1.6zM183.56,383.4h1.6v1.6h-1.6zM202.09,311.2h1.6v1.6h-1.6zM136.58,307.65h1.6v1.6h-1.6zM148.83,371.3h1.6v1.6h-1.6zM204.94,313.37h1.6v1.6h-1.6zM147.57,369.52h1.6v1.6h-1.6zM130.17,347.31h1.6v1.6h-1.6zM201.53,374.22h1.6v1.6h-1.6zM127.53,360.77h1.6v1.6h-1.6zM210.03,317.58h1.6v1.6h-1.6zM197.08,307.3h1.6v1.6h-1.6zM193.82,304.11h1.6v1.6h-1.6zM201.02,375.27h1.6v1.6h-1.6zM209.73,315.05h1.6v1.6h-1.6zM212.18,320.09h1.6v1.6h-1.6zM130.19,335.34h1.6v1.6h-1.6zM205.18,349.88h1.6v1.6h-1.6zM153.7,374.92h1.6v1.6h-1.6zM174.68,381.04h1.6v1.6h-1.6zM136.49,307.05h1.6v1.6h-1.6zM201.07,380.21h1.6v1.6h-1.6zM199.35,289.98h1.6v1.6h-1.6zM156.34,375.34h1.6v1.6h-1.6zM201.58,376.79h1.6v1.6h-1.6zM202.35,368.18h1.6v1.6h-1.6zM173.3,276.11h1.6v1.6h-1.6zM199.78,306.85h1.6v1.6h-1.6zM127.52,362.46h1.6v1.6h-1.6zM201.24,307.68h1.6v1.6h-1.6zM201.74,357.78h1.6v1.6h-1.6zM176.01,380.22h1.6v1.6h-1.6zM191.65,279.2h1.6v1.6h-1.6zM138.54,302.12h1.6v1.6h-1.6zM143.23,292.06h1.6v1.6h-1.6zM205.77,348.56h1.6v1.6h-1.6zM196.27,286.34h1.6v1.6h-1.6zM152.3,281.11h1.6v1.6h-1.6zM183.98,276.44h1.6v1.6h-1.6zM131.19,338.61h1.6v1.6h-1.6zM192.19,387.75h1.6v1.6h-1.6zM192.26,300.43h1.6v1.6h-1.6zM170.32,275.4h1.6v1.6h-1.6zM197.18,285.39h1.6v1.6h-1.6zM135.25,309.58h1.6v1.6h-1.6zM129.71,322.61h1.6v1.6h-1.6zM215.63,364.55h1.5v1.5h-1.5zM216.64,340.92h1.5v1.5h-1.5zM219.96,379.63h1.5v1.5h-1.5zM211.34,382.5h1.5v1.5h-1.5zM211.45,335.23h1.5v1.5h-1.5zM210.05,383.13h1.5v1.5h-1.5zM202.82,353.18h1.5v1.5h-1.5zM209.85,382.26h1.5v1.5h-1.5zM216.73,356.8h1.5v1.5h-1.5zM222.08,361.22h1.5v1.5h-1.5zM223.7,349.25h1.5v1.5h-1.5zM224.46,359.85h1.5v1.5h-1.5zM222.97,336.97h1.5v1.5h-1.5zM211.16,347.45h1.5v1.5h-1.5zM215.32,378.21h1.5v1.5h-1.5zM216.99,362.83h1.5v1.5h-1.5zM201.92,360.89h1.5v1.5h-1.5zM228.99,378.74h1.5v1.5h-1.5zM206.77,354.2h1.5v1.5h-1.5zM216.79,341.14h1.5v1.5h-1.5zM208.3,357.02h1.5v1.5h-1.5zM213.67,366.99h1.5v1.5h-1.5zM208.43,345.23h1.5v1.5h-1.5zM201.18,382.36h1.5v1.5h-1.5zM200.68,379.85h1.5v1.5h-1.5zM225.86,373.73h1.5v1.5h-1.5zM158.25,374.3h1.5v1.5h-1.5zM140.54,369.97h1.5v1.5h-1.5zM203.46,383.63h1.5v1.5h-1.5zM139.12,367.68h1.5v1.5h-1.5zM131.89,370.76h1.5v1.5h-1.5zM162.32,376.02h1.5v1.5h-1.5zM130.1,376.05h1.5v1.5h-1.5zM129.41,367.75h1.5v1.5h-1.5zM173.74,379.75h1.5v1.5h-1.5zM169.85,378.03h1.5v1.5h-1.5zM143.28,371.19h1.5v1.5h-1.5zM164.09,380.62h1.5v1.5h-1.5zM162.37,380.09h1.5v1.5h-1.5zM135.92,370.44h1.5v1.5h-1.5zM130.23,367.74h1.5v1.5h-1.5zM166.62,377.46h1.5v1.5h-1.5zM138.66,368.59h1.5v1.5h-1.5zM131,369.63h1.5v1.5h-1.5zM149.78,385.94h1.5v1.5h-1.5zM203.96,381.47h1.5v1.5h-1.5zM128.91,383.48h1.5v1.5h-1.5zM186.24,388.98h1.5v1.5h-1.5zM159.44,389.54h1.5v1.5h-1.5zM136.28,378.48h1.5v1.5h-1.5zM177.09,387.05h1.5v1.5h-1.5zM141.58,369.64h1.5v1.5h-1.5zM140.21,368.23h1.5v1.5h-1.5zM151.58,380.9h1.5v1.5h-1.5zM135.69,376.06h1.5v1.5h-1.5zM185.96,387.23h1.5v1.5h-1.5zM165.45,378.24h1.5v1.5h-1.5zM145.6,378.78h1.5v1.5h-1.5zM147.39,370.19h1.5v1.5h-1.5zM139.5,368.02h1.5v1.5h-1.5zM139.72,379.11h1.5v1.5h-1.5zM144.42,369.84h1.5v1.5h-1.5zM151.45,377.85h1.5v1.5h-1.5zM140.13,372.08h1.5v1.5h-1.5zM202.7,381.58h1.5v1.5h-1.5zM135.76,369.3h1.5v1.5h-1.5zM132.89,370.29h1.5v1.5h-1.5zM189.46,393.46h1.5v1.5h-1.5zM163.17,377.6h1.5v1.5h-1.5zM169.27,384.09h1.5v1.5h-1.5zM158.54,373.6h1.5v1.5h-1.5zM178.25,382.87h1.5v1.5h-1.5zM148.7,373.93h1.5v1.5h-1.5zM168.3,384.22h1.5v1.5h-1.5z"/>
<path fill="#b0dc8c" d="M250.04,380.56h1.6v1.6h-1.6zM212.33,316.18h1.6v1.6h-1.6zM217.88,319.72h1.6v1.6h-1.6zM282.7,246.35h1.6v1.6h-1.6zM227.04,360.63h1.6v1.6h-1.6zM208.73,310.82h1.6v1.6h-1.6zM226.64,350.7h1.6v1.6h-1.6zM293.51,264.21h1.6v1.6h-1.6zM225.46,358.08h1.6v1.6h-1.6zM265.37,365.36h1.6v1.6h-1.6zM226.16,359.61h1.6v1.6h-1.6zM241.18,388.86h1.6v1.6h-1.6zM227.68,369.73h1.6v1.6h-1.6zM223.96,344.73h1.6v1.6h-1.6zM267.63,362.52h1.6v1.6h-1.6zM265.26,363.02h1.6v1.6h-1.6zM284.74,330.08h1.6v1.6h-1.6zM285.99,305.69h1.6v1.6h-1.6zM289.01,293.5h1.6v1.6h-1.6zM202.78,281.95h1.6v1.6h-1.6zM285.66,308.25h1.6v1.6h-1.6zM234.64,262.01h1.6v1.6h-1.6zM243.04,387.75h1.6v1.6h-1.6zM284.61,323.18h1.6v1.6h-1.6zM280.35,351.36h1.6v1.6h-1.6zM226.77,344.96h1.6v1.6h-1.6zM269.04,359.76h1.6v1.6h-1.6zM250.71,379.73h1.6v1.6h-1.6zM236.43,259.97h1.6v1.6h-1.6zM254.67,373.3h1.6v1.6h-1.6zM226.26,345.95h1.6v1.6h-1.6zM220.35,266.99h1.6v1.6h-1.6zM211.89,275.4h1.6v1.6h-1.6zM260.67,368.04h1.6v1.6h-1.6zM285.75,298.14h1.6v1.6h-1.6zM205.16,304.09h1.6v1.6h-1.6zM285.07,339.47h1.6v1.6h-1.6zM264.81,363.34h1.6v1.6h-1.6zM199.01,294.49h1.6v1.6h-1.6zM255.63,372.6h1.6v1.6h-1.6zM222.77,267.39h1.6v1.6h-1.6zM284.91,327.07h1.6v1.6h-1.6zM285.4,299.52h1.6v1.6h-1.6zM291.4,276.49h1.6v1.6h-1.6zM236.6,382.36h1.6v1.6h-1.6zM233.77,260.81h1.6v1.6h-1.6zM293.93,257.68h1.6v1.6h-1.6zM277.48,354.85h1.6v1.6h-1.6zM205.99,306.84h1.6v1.6h-1.6zM210.12,311.55h1.6v1.6h-1.6zM290.32,278.7h1.6v1.6h-1.6zM226.67,353.8h1.6v1.6h-1.6zM258.71,246.66h1.6v1.6h-1.6zM284.22,321.61h1.6v1.6h-1.6zM290.05,248.05h1.6v1.6h-1.6zM285.15,312.05h1.6v1.6h-1.6zM201.56,301.62h1.6v1.6h-1.6zM226.61,339.56h1.6v1.6h-1.6zM289.24,247.42h1.6v1.6h-1.6zM221.77,360.53h1.5v1.5h-1.5zM209.1,341.04h1.5v1.5h-1.5zM217.07,331.58h1.5v1.5h-1.5zM226.73,366.88h1.5v1.5h-1.5zM208.31,354.42h1.5v1.5h-1.5zM216.62,366.64h1.5v1.5h-1.5zM206.7,376.21h1.5v1.5h-1.5zM202.81,310.45h1.5v1.5h-1.5zM214.6,323.27h1.5v1.5h-1.5zM204.47,370.85h1.5v1.5h-1.5zM209.63,364.01h1.5v1.5h-1.5zM207.75,366.34h1.5v1.5h-1.5zM209.57,341.22h1.5v1.5h-1.5zM202.41,380.95h1.5v1.5h-1.5zM212.6,319.49h1.5v1.5h-1.5zM219.65,361.47h1.5v1.5h-1.5zM213.02,358.27h1.5v1.5h-1.5zM227.48,377.61h1.5v1.5h-1.5zM218.12,365.72h1.5v1.5h-1.5zM207.1,367.65h1.5v1.5h-1.5zM221.99,343.84h1.5v1.5h-1.5zM216.03,383.77h1.5v1.5h-1.5zM205.08,312.33h1.5v1.5h-1.5zM217.62,325.32h1.5v1.5h-1.5zM213.22,315.67h1.5v1.5h-1.5zM207.02,361.8h1.5v1.5h-1.5zM227.28,370.01h1.5v1.5h-1.5zM210.28,369.32h1.5v1.5h-1.5z"/>
<path fill="#4ea73e" d="M212.68,272.08h1.6v1.6h-1.6zM182.59,280.88h1.6v1.6h-1.6zM173.41,272.55h1.6v1.6h-1.6zM183.47,221.21h1.6v1.6h-1.6zM193.03,283.75h1.6v1.6h-1.6zM254.41,227.23h1.6v1.6h-1.6zM213.45,271h1.6v1.6h-1.6zM198.13,282.85h1.6v1.6h-1.6zM163.12,261.02h1.6v1.6h-1.6zM163.6,262.68h1.6v1.6h-1.6zM161.54,237.64h1.6v1.6h-1.6zM253.57,230.03h1.6v1.6h-1.6zM169.81,269.69h1.6v1.6h-1.6zM226.33,195.87h1.6v1.6h-1.6zM254.16,236.99h1.6v1.6h-1.6zM158.63,241.01h1.6v1.6h-1.6zM244.23,260.98h1.6v1.6h-1.6zM221.97,192.97h1.6v1.6h-1.6zM161.21,237.59h1.6v1.6h-1.6zM212.93,271.8h1.6v1.6h-1.6zM206.33,182.08h1.6v1.6h-1.6zM212.27,184.36h1.6v1.6h-1.6zM184.44,219.36h1.6v1.6h-1.6zM214.46,182.74h1.6v1.6h-1.6zM214.64,267.79h1.6v1.6h-1.6zM174.5,274.28h1.6v1.6h-1.6zM174.62,232.16h1.6v1.6h-1.6zM247.42,245.24h1.6v1.6h-1.6zM227.84,200.29h1.6v1.6h-1.6zM253.52,239.4h1.6v1.6h-1.6zM253.51,228.82h1.6v1.6h-1.6zM168.7,267.73h1.6v1.6h-1.6zM252.48,221h1.6v1.6h-1.6zM207.24,278.11h1.6v1.6h-1.6zM247.71,256.84h1.6v1.6h-1.6zM183.67,217.02h1.6v1.6h-1.6zM188.46,281.38h1.6v1.6h-1.6zM231.56,203.09h1.6v1.6h-1.6zM249.61,215.2h1.6v1.6h-1.6zM165.98,267.7h1.6v1.6h-1.6zM184.26,280.46h1.6v1.6h-1.6zM188.06,202.93h1.6v1.6h-1.6zM208.79,276.31h1.6v1.6h-1.6zM212.13,183.21h1.6v1.6h-1.6zM161.14,259.23h1.6v1.6h-1.6zM238.85,262.61h1.6v1.6h-1.6zM256.43,224.6h1.6v1.6h-1.6zM179.58,278.67h1.6v1.6h-1.6zM183.12,223.23h1.6v1.6h-1.6zM169.52,239.83h1.6v1.6h-1.6zM237.82,207.76h1.6v1.6h-1.6zM193.31,194.33h1.6v1.6h-1.6zM204.01,282.87h1.4v1.4h-1.4zM217.57,295.77h1.4v1.4h-1.4zM197.67,290.9h1.4v1.4h-1.4zM221.95,272.28h1.4v1.4h-1.4zM238.44,271.76h1.4v1.4h-1.4zM189.91,292.07h1.4v1.4h-1.4zM190.58,285.73h1.4v1.4h-1.4zM215.69,298.83h1.4v1.4h-1.4zM204.41,297.04h1.4v1.4h-1.4zM189.31,294.74h1.4v1.4h-1.4zM191.3,283.05h1.4v1.4h-1.4zM240.05,293h1.4v1.4h-1.4zM190.37,287.48h1.4v1.4h-1.4zM215.15,274.28h1.4v1.4h-1.4zM236.58,276.41h1.4v1.4h-1.4zM227.11,281.24h1.4v1.4h-1.4zM244.74,280.64h1.4v1.4h-1.4zM184.67,285.34h1.4v1.4h-1.4zM220.8,273.78h1.4v1.4h-1.4zM242.98,285.97h1.4v1.4h-1.4zM200.71,295.65h1.4v1.4h-1.4zM215.6,292.93h1.4v1.4h-1.4zM214.57,276.01h1.4v1.4h-1.4zM246.96,292.64h1.4v1.4h-1.4zM190.26,279.28h1.4v1.4h-1.4zM211.3,286.85h1.4v1.4h-1.4zM211.46,290.86h1.4v1.4h-1.4zM247.7,297.48h1.4v1.4h-1.4zM237.89,265.32h1.4v1.4h-1.4zM232.3,288.42h1.4v1.4h-1.4zM202.1,297.15h1.4v1.4h-1.4zM212.83,291.9h1.4v1.4h-1.4zM206.1,292.59h1.4v1.4h-1.4zM242.72,276.44h1.4v1.4h-1.4zM245.63,277.02h1.4v1.4h-1.4zM217.15,289.07h1.4v1.4h-1.4zM221.1,280.57h1.4v1.4h-1.4zM213.57,291.03h1.4v1.4h-1.4zM230.95,268.16h1.4v1.4h-1.4zM221.61,289.73h1.4v1.4h-1.4zM215.49,296.6h1.4v1.4h-1.4zM187.57,288.43h1.4v1.4h-1.4zM227.64,270.6h1.4v1.4h-1.4zM209.1,299.13h1.4v1.4h-1.4zM192.25,286.84h1.4v1.4h-1.4zM237.27,265.16h1.4v1.4h-1.4zM223.37,287.64h1.4v1.4h-1.4zM216.05,298.68h1.4v1.4h-1.4zM225.94,280.74h1.4v1.4h-1.4zM244.49,279.09h1.4v1.4h-1.4zM223.01,297.5h1.4v1.4h-1.4zM205.46,296.44h1.4v1.4h-1.4zM235.03,276.17h1.4v1.4h-1.4zM226.45,282.22h1.4v1.4h-1.4zM248.56,265.11h1.4v1.4h-1.4zM188.47,290.64h1.4v1.4h-1.4zM242.47,288.92h1.4v1.4h-1.4zM234.6,266.3h1.4v1.4h-1.4zM242.39,273.49h1.4v1.4h-1.4zM203.44,290.38h1.4v1.4h-1.4zM248.6,285.01h1.4v1.4h-1.4zM189.8,287.07h1.4v1.4h-1.4zM220.21,295.17h1.4v1.4h-1.4zM208.9,288.66h1.4v1.4h-1.4zM230.66,286.05h1.4v1.4h-1.4z"/>
<path d="M150.01,106.83C149.38,105.96 151.03,103.99 152.37,102.58C153.71,101.16 157.01,99.98 158.04,98.33C159.06,96.68 157.72,94 158.51,92.66C159.29,91.33 161.1,90.77 162.76,90.3C164.41,89.83 166.85,90.14 168.42,89.83C170,89.52 170.94,88.49 172.2,88.41C173.46,88.33 174.88,88.65 175.98,89.36C177.08,90.07 178.18,91.17 178.81,92.66C179.44,94.16 179.75,96.6 179.75,98.33C179.75,100.06 179.44,101.79 178.81,103.05C178.18,104.31 177.39,105.1 175.98,105.88C174.56,106.67 172.51,107.14 170.31,107.77C168.11,108.4 165.12,109.66 162.76,109.66C160.4,109.66 158.27,108.24 156.15,107.77C154.02,107.3 150.64,107.69 150.01,106.83Z" fill="#e8929a"/>
<path d="M178.2,104.5C178.57,104.08 179.38,104.67 179.6,105.5C179.82,106.33 179.72,108.67 179.5,109.5C179.28,110.33 178.65,110.75 178.3,110.5C177.95,110.25 177.42,109 177.4,108C177.38,107 177.83,104.92 178.2,104.5Z" fill="#4ea73e"/>
<path d="M78,186C78.33,184.67 81.67,181.67 84,180C86.33,178.33 89.67,177.67 92,176C94.33,174.33 96.17,171.67 98,170C99.83,168.33 101.67,166 103,166C104.33,166 106.17,168.33 106,170C105.83,171.67 101.5,174.5 102,176C102.5,177.5 108.33,177.67 109,179C109.67,180.33 108.17,183.17 106,184C103.83,184.83 99,183.67 96,184C93,184.33 90.33,185.33 88,186C85.67,186.67 83.67,188 82,188C80.33,188 77.67,187.33 78,186Z" fill="#e6b56f"/>
<path d="M181.5,161.5C181.5,160.33 182.92,160.75 184,162C185.08,163.25 187,166.83 188,169C189,171.17 190,173.83 190,175C190,176.17 189,177 188,176C187,175 185.08,171.42 184,169C182.92,166.58 181.5,162.67 181.5,161.5Z" fill="#4ea73e"/>
<path d="M143,205C143.25,203.83 144.67,203.17 145.5,204C146.33,204.83 147.33,207.83 148,210C148.67,212.17 149.58,215.67 149.5,217C149.42,218.33 148.42,219 147.5,218C146.58,217 144.75,213.17 144,211C143.25,208.83 142.75,206.17 143,205Z" fill="#e8929a"/>
<path d="M406,330C406.33,329.17 409.67,332 412,333C414.33,334 417.33,335 420,336C422.67,337 426.5,337.5 428,339C429.5,340.5 429.5,344 429,345C428.5,346 427,345.33 425,345C423,344.67 419.5,344.17 417,343C414.5,341.83 411.83,340.17 410,338C408.17,335.83 405.67,330.83 406,330Z" fill="#da2428"/>
<text x="148.6" y="104.5" font-size="16.5">mDC</text>
<text x="61.3" y="183.8" font-size="16.5">KI67+ Mac</text>
<text x="158.9" y="239.3" font-size="16.6">VCAN+ Mono</text>
<text x="209.2" y="310.3" font-size="16.6">ITGAX+ Mac</text>
<text x="124.8" y="333.8" font-size="16.6">SAA1+ KC</text>
<text x="124.9" y="417.4" font-size="16.6">VCAM1+ KC</text>
<text x="407.5" y="343" font-size="15.5">pDC</text>
<line x1="60.6" y1="475.5" x2="60.6" y2="366" stroke="#000" stroke-width="1.6"/>
<line x1="59.8" y1="475.3" x2="165" y2="475.3" stroke="#000" stroke-width="1.6"/>
<path d="M52.2,368.5L69.1,368.5L60.6,353.7Z" fill="#000"/>
<path d="M163,467L163,484L177.7,475.5Z" fill="#000"/>
<text x="94" y="495.3" font-size="16">UMAP_1</text>
<text transform="translate(48.8,408.7) rotate(-90)" font-size="16" text-anchor="middle">UMAP_2</text>
<circle cx="457.4" cy="319.6" r="9.1" fill="#a6cde2"/>
<text x="475" y="325.9" font-size="19">VCAM1+ KC</text>
<circle cx="457.4" cy="345.63" r="9.1" fill="#3f7eb3"/>
<text x="475" y="351.93" font-size="19">SAA1+ KC</text>
<circle cx="457.4" cy="371.66" r="9.1" fill="#b0dc8c"/>
<text x="475" y="377.96" font-size="19">DTNA+ Mac</text>
<circle cx="457.4" cy="397.69" r="9.1" fill="#4ea73e"/>
<text x="475" y="403.99" font-size="19">VCAN+ Mono</text>
<circle cx="457.4" cy="423.72" r="9.1" fill="#e8929a"/>
<text x="475" y="430.02" font-size="19">mDC</text>
<circle cx="457.4" cy="449.75" r="9.1" fill="#da2428"/>
<text x="475" y="456.05" font-size="19">pDC</text>
<circle cx="457.4" cy="475.78" r="9.1" fill="#e6b56f"/>
<text x="475" y="482.08" font-size="19">MKI67+ Mac</text>
<circle cx="764.5" cy="158.4" r="11.55" fill="#B8D8E6" stroke="#000" stroke-width="0.9"/>
<circle cx="800.4" cy="158.4" r="8.15" fill="#DDEEF2" stroke="#000" stroke-width="0.9"/>
<circle cx="836.3" cy="158.4" r="8.05" fill="#D2E9EF" stroke="#000" stroke-width="0.9"/>
<circle cx="872.2" cy="158.4" r="8.05" fill="#B9D8E6" stroke="#000" stroke-width="0.9"/>
<circle cx="908.1" cy="158.4" r="9.05" fill="#EBD58C" stroke="#000" stroke-width="0.9"/>
<circle cx="944" cy="158.4" r="7.35" fill="#7BA5CC" stroke="#000" stroke-width="0.9"/>
<circle cx="979.9" cy="158.4" r="6.05" fill="#A3C8DE" stroke="#000" stroke-width="0.9"/>
<circle cx="1015.8" cy="158.4" r="6.45" fill="#B5D5E5" stroke="#000" stroke-width="0.9"/>
<circle cx="1051.7" cy="158.4" r="4.15" fill="#A7CDE2" stroke="#000" stroke-width="0.9"/>
<circle cx="1087.6" cy="158.4" r="3.35" fill="#EEF5DA" stroke="#000" stroke-width="0.9"/>
<circle cx="1123.5" cy="158.4" r="3.35" fill="#B5D8E8" stroke="#000" stroke-width="0.9"/>
<circle cx="1159.4" cy="158.4" r="8.95" fill="#E2F0EC" stroke="#000" stroke-width="0.9"/>
<circle cx="1195.3" cy="158.4" r="4.65" fill="#A9CDE0" stroke="#000" stroke-width="0.9"/>
<circle cx="1231.2" cy="158.4" r="10.95" fill="#C5E0EA" stroke="#000" stroke-width="0.9"/>
<circle cx="1267.1" cy="158.4" r="1.2" fill="#1a1a1a"/>
<circle cx="1303" cy="158.4" r="8.75" fill="#9EC5DC" stroke="#000" stroke-width="0.9"/>
<circle cx="1338.9" cy="158.4" r="7.05" fill="#A4C9DE" stroke="#000" stroke-width="0.9"/>
<circle cx="1374.8" cy="158.4" r="10.25" fill="#D0302B" stroke="#000" stroke-width="0.9"/>
<circle cx="1410.7" cy="158.4" r="9.85" fill="#D0302B" stroke="#000" stroke-width="0.9"/>
<circle cx="764.5" cy="196.17" r="4.05" fill="#5B83BD" stroke="#000" stroke-width="0.9"/>
<circle cx="800.4" cy="196.17" r="4.15" fill="#7099C8" stroke="#000" stroke-width="0.9"/>
<circle cx="836.3" cy="196.17" r="3.55" fill="#7099C8" stroke="#000" stroke-width="0.9"/>
<circle cx="872.2" cy="196.17" r="5.15" fill="#5077B8" stroke="#000" stroke-width="0.9"/>
<circle cx="908.1" cy="196.17" r="2.15" fill="#89AFD2" stroke="#000" stroke-width="0.9"/>
<circle cx="944" cy="196.17" r="2.55" fill="#5A82BC" stroke="#000" stroke-width="0.9"/>
<circle cx="979.9" cy="196.17" r="1.55" fill="#7EA6CE" stroke="#000" stroke-width="0.9"/>
<circle cx="1015.8" cy="196.17" r="1.55" fill="#9CC3DD" stroke="#000" stroke-width="0.9"/>
<circle cx="1051.7" cy="196.17" r="2.55" fill="#A9CDE2" stroke="#000" stroke-width="0.9"/>
<circle cx="1087.6" cy="196.17" r="1.85" fill="#A9CDE2" stroke="#000" stroke-width="0.9"/>
<circle cx="1123.5" cy="196.17" r="1.55" fill="#A9CDE2" stroke="#000" stroke-width="0.9"/>
<circle cx="1159.4" cy="196.17" r="3.95" fill="#7EA6CE" stroke="#000" stroke-width="0.9"/>
<circle cx="1195.3" cy="196.17" r="2.95" fill="#A7CBE0" stroke="#000" stroke-width="0.9"/>
<circle cx="1231.2" cy="196.17" r="9.15" fill="#92BDD6" stroke="#000" stroke-width="0.9"/>
<circle cx="1267.1" cy="196.17" r="10.25" fill="#D0302B" stroke="#000" stroke-width="0.9"/>
<circle cx="1303" cy="196.17" r="14.35" fill="#D0302B" stroke="#000" stroke-width="0.9"/>
<circle cx="1338.9" cy="196.17" r="14.55" fill="#D0302B" stroke="#000" stroke-width="0.9"/>
<circle cx="1374.8" cy="196.17" r="1.3" fill="#1a1a1a"/>
<circle cx="1410.7" cy="196.17" r="1.3" fill="#1a1a1a"/>
<circle cx="764.5" cy="233.94" r="4.95" fill="#5A80BC" stroke="#000" stroke-width="0.9"/>
<circle cx="800.4" cy="233.94" r="4.15" fill="#7199C8" stroke="#000" stroke-width="0.9"/>
<circle cx="836.3" cy="233.94" r="5.15" fill="#7EA4CD" stroke="#000" stroke-width="0.9"/>
<circle cx="872.2" cy="233.94" r="6.15" fill="#6688C2" stroke="#000" stroke-width="0.9"/>
<circle cx="908.1" cy="233.94" r="3.05" fill="#8BB1D3" stroke="#000" stroke-width="0.9"/>
<circle cx="944" cy="233.94" r="10.55" fill="#EEF6E0" stroke="#000" stroke-width="0.9"/>
<circle cx="979.9" cy="233.94" r="1.55" fill="#7EA6CE" stroke="#000" stroke-width="0.9"/>
<circle cx="1015.8" cy="233.94" r="2.55" fill="#A9CDE2" stroke="#000" stroke-width="0.9"/>
<circle cx="1051.7" cy="233.94" r="1.3" fill="#1a1a1a"/>
<circle cx="1087.6" cy="233.94" r="1.3" fill="#1a1a1a"/>
<circle cx="1123.5" cy="233.94" r="2.55" fill="#B5D8E8" stroke="#000" stroke-width="0.9"/>
<circle cx="1159.4" cy="233.94" r="12.65" fill="#E0684A" stroke="#000" stroke-width="0.9"/>
<circle cx="1195.3" cy="233.94" r="14.95" fill="#D0302B" stroke="#000" stroke-width="0.9"/>
<circle cx="1231.2" cy="233.94" r="14.05" fill="#D43F31" stroke="#000" stroke-width="0.9"/>
<circle cx="1267.1" cy="233.94" r="1.3" fill="#1a1a1a"/>
<circle cx="1303" cy="233.94" r="9.05" fill="#9EC5DC" stroke="#000" stroke-width="0.9"/>
<circle cx="1338.9" cy="233.94" r="9.45" fill="#B3D5E5" stroke="#000" stroke-width="0.9"/>
<circle cx="1374.8" cy="233.94" r="1.55" fill="#8DB3D4" stroke="#000" stroke-width="0.9"/>
<circle cx="1410.7" cy="233.94" r="1.55" fill="#8DB3D4" stroke="#000" stroke-width="0.9"/>
<circle cx="764.5" cy="271.71" r="7.05" fill="#7BA1CC" stroke="#000" stroke-width="0.9"/>
<circle cx="800.4" cy="271.71" r="5.05" fill="#7199C8" stroke="#000" stroke-width="0.9"/>
<circle cx="836.3" cy="271.71" r="2.95" fill="#7199C8" stroke="#000" stroke-width="0.9"/>
<circle cx="872.2" cy="271.71" r="8.05" fill="#EBD58C" stroke="#000" stroke-width="0.9"/>
<circle cx="908.1" cy="271.71" r="4.75" fill="#A8CDE2" stroke="#000" stroke-width="0.9"/>
<circle cx="944" cy="271.71" r="10.35" fill="#EFE9A0" stroke="#000" stroke-width="0.9"/>
<circle cx="979.9" cy="271.71" r="2.55" fill="#6E96C7" stroke="#000" stroke-width="0.9"/>
<circle cx="1015.8" cy="271.71" r="10.25" fill="#D73A2E" stroke="#000" stroke-width="0.9"/>
<circle cx="1051.7" cy="271.71" r="11.35" fill="#D53A2F" stroke="#000" stroke-width="0.9"/>
<circle cx="1087.6" cy="271.71" r="5.65" fill="#D84A34" stroke="#000" stroke-width="0.9"/>
<circle cx="1123.5" cy="271.71" r="5.55" fill="#D33B2E" stroke="#000" stroke-width="0.9"/>
<circle cx="1159.4" cy="271.71" r="3.95" fill="#80A8CF" stroke="#000" stroke-width="0.9"/>
<circle cx="1195.3" cy="271.71" r="1.85" fill="#A9CDE2" stroke="#000" stroke-width="0.9"/>
<circle cx="1231.2" cy="271.71" r="7.55" fill="#8DB5D3" stroke="#000" stroke-width="0.9"/>
<circle cx="1267.1" cy="271.71" r="1.25" fill="#A9CDE2" stroke="#000" stroke-width="0.9"/>
<circle cx="1303" cy="271.71" r="7.95" fill="#A3C9DE" stroke="#000" stroke-width="0.9"/>
<circle cx="1338.9" cy="271.71" r="6.25" fill="#9EC5DC" stroke="#000" stroke-width="0.9"/>
<circle cx="1374.8" cy="271.71" r="1.1" fill="#1a1a1a"/>
<circle cx="1410.7" cy="271.71" r="1.5" fill="#1a1a1a"/>
<circle cx="764.5" cy="309.48" r="10.95" fill="#B0D3E4" stroke="#000" stroke-width="0.9"/>
<circle cx="800.4" cy="309.48" r="4.55" fill="#6D95C6" stroke="#000" stroke-width="0.9"/>
<circle cx="836.3" cy="309.48" r="5.05" fill="#85ABD1" stroke="#000" stroke-width="0.9"/>
<circle cx="872.2" cy="309.48" r="7.55" fill="#B6D6E6" stroke="#000" stroke-width="0.9"/>
<circle cx="908.1" cy="309.48" r="10.15" fill="#E88E57" stroke="#000" stroke-width="0.9"/>
<circle cx="944" cy="309.48" r="11.75" fill="#E8965E" stroke="#000" stroke-width="0.9"/>
<circle cx="979.9" cy="309.48" r="8.55" fill="#DA4F35" stroke="#000" stroke-width="0.9"/>
<circle cx="1015.8" cy="309.48" r="4.55" fill="#A8CDE2" stroke="#000" stroke-width="0.9"/>
<circle cx="1051.7" cy="309.48" r="4.15" fill="#A8CDE2" stroke="#000" stroke-width="0.9"/>
<circle cx="1087.6" cy="309.48" r="2.25" fill="#A9CDE2" stroke="#000" stroke-width="0.9"/>
<circle cx="1123.5" cy="309.48" r="2.25" fill="#A9CDE2" stroke="#000" stroke-width="0.9"/>
<circle cx="1159.4" cy="309.48" r="9.55" fill="#EEF5C3" stroke="#000" stroke-width="0.9"/>
<circle cx="1195.3" cy="309.48" r="3.05" fill="#A9CDE2" stroke="#000" stroke-width="0.9"/>
<circle cx="1231.2" cy="309.48" r="10.65" fill="#C4DFE8" stroke="#000" stroke-width="0.9"/>
<circle cx="1267.1" cy="309.48" r="1.35" fill="#A9CDE2" stroke="#000" stroke-width="0.9"/>
<circle cx="1303" cy="309.48" r="8.45" fill="#A3C9DE" stroke="#000" stroke-width="0.9"/>
<circle cx="1338.9" cy="309.48" r="6.05" fill="#9EC5DC" stroke="#000" stroke-width="0.9"/>
<circle cx="1374.8" cy="309.48" r="1.55" fill="#C5E0EA" stroke="#000" stroke-width="0.9"/>
<circle cx="1410.7" cy="309.48" r="1.55" fill="#C5E0EA" stroke="#000" stroke-width="0.9"/>
<circle cx="764.5" cy="347.25" r="13.05" fill="#EEDC8E" stroke="#000" stroke-width="0.9"/>
<circle cx="800.4" cy="347.25" r="10.05" fill="#EAB772" stroke="#000" stroke-width="0.9"/>
<circle cx="836.3" cy="347.25" r="8.15" fill="#F1F4B5" stroke="#000" stroke-width="0.9"/>
<circle cx="872.2" cy="347.25" r="8.05" fill="#E89C62" stroke="#000" stroke-width="0.9"/>
<circle cx="908.1" cy="347.25" r="3.05" fill="#9EC3DD" stroke="#000" stroke-width="0.9"/>
<circle cx="944" cy="347.25" r="4.55" fill="#7BA3CC" stroke="#000" stroke-width="0.9"/>
<circle cx="979.9" cy="347.25" r="5.35" fill="#D3E8EF" stroke="#000" stroke-width="0.9"/>
<circle cx="1015.8" cy="347.25" r="3.35" fill="#A8CDE2" stroke="#000" stroke-width="0.9"/>
<circle cx="1051.7" cy="347.25" r="2.25" fill="#B5D8E8" stroke="#000" stroke-width="0.9"/>
<circle cx="1087.6" cy="347.25" r="2.25" fill="#B5D8E8" stroke="#000" stroke-width="0.9"/>
<circle cx="1123.5" cy="347.25" r="2.25" fill="#B5D8E8" stroke="#000" stroke-width="0.9"/>
<circle cx="1159.4" cy="347.25" r="1.85" fill="#80A8CF" stroke="#000" stroke-width="0.9"/>
<circle cx="1195.3" cy="347.25" r="1.45" fill="#C5E0EA" stroke="#000" stroke-width="0.9"/>
<circle cx="1231.2" cy="347.25" r="5.95" fill="#7EA5CD" stroke="#000" stroke-width="0.9"/>
<circle cx="1267.1" cy="347.25" r="1.3" fill="#1a1a1a"/>
<circle cx="1303" cy="347.25" r="5.65" fill="#96BDD8" stroke="#000" stroke-width="0.9"/>
<circle cx="1338.9" cy="347.25" r="1.35" fill="#A9CDE2" stroke="#000" stroke-width="0.9"/>
<circle cx="1374.8" cy="347.25" r="1.1" fill="#1a1a1a"/>
<circle cx="1410.7" cy="347.25" r="1.1" fill="#1a1a1a"/>
<circle cx="764.5" cy="385.02" r="14.75" fill="#E8985F" stroke="#000" stroke-width="0.9"/>
<circle cx="800.4" cy="385.02" r="12.75" fill="#EAB272" stroke="#000" stroke-width="0.9"/>
<circle cx="836.3" cy="385.02" r="12.35" fill="#E06C48" stroke="#000" stroke-width="0.9"/>
<circle cx="872.2" cy="385.02" r="7.15" fill="#7EA6CF" stroke="#000" stroke-width="0.9"/>
<circle cx="908.1" cy="385.02" r="2.95" fill="#8EB3D4" stroke="#000" stroke-width="0.9"/>
<circle cx="944" cy="385.02" r="6.15" fill="#6A91C5" stroke="#000" stroke-width="0.9"/>
<circle cx="979.9" cy="385.02" r="8.35" fill="#EEF5DA" stroke="#000" stroke-width="0.9"/>
<circle cx="1015.8" cy="385.02" r="2.25" fill="#A9CDE2" stroke="#000" stroke-width="0.9"/>
<circle cx="1051.7" cy="385.02" r="1.85" fill="#B5D8E8" stroke="#000" stroke-width="0.9"/>
<circle cx="1087.6" cy="385.02" r="1.85" fill="#B5D8E8" stroke="#000" stroke-width="0.9"/>
<circle cx="1123.5" cy="385.02" r="2.25" fill="#A9CDE2" stroke="#000" stroke-width="0.9"/>
<circle cx="1159.4" cy="385.02" r="1.45" fill="#80A8CF" stroke="#000" stroke-width="0.9"/>
<circle cx="1195.3" cy="385.02" r="1.45" fill="#C5E0EA" stroke="#000" stroke-width="0.9"/>
<circle cx="1231.2" cy="385.02" r="8.85" fill="#7EA8CD" stroke="#000" stroke-width="0.9"/>
<circle cx="1267.1" cy="385.02" r="1.3" fill="#1a1a1a"/>
<circle cx="1303" cy="385.02" r="6.15" fill="#7EA6CE" stroke="#000" stroke-width="0.9"/>
<circle cx="1338.9" cy="385.02" r="1.35" fill="#A9CDE2" stroke="#000" stroke-width="0.9"/>
<circle cx="1374.8" cy="385.02" r="1.3" fill="#1a1a1a"/>
<circle cx="1410.7" cy="385.02" r="1.5" fill="#1a1a1a"/>
<rect x="743.2" y="135.3" width="688.8" height="271.9" fill="none" stroke="#1e1e1e" stroke-width="1.4"/>
<line x1="737.8" y1="158.4" x2="743.2" y2="158.4" stroke="#2b2b2b" stroke-width="1.2"/>
<text x="734.2" y="164.4" font-size="16.6" text-anchor="end">MKI67+ Mac</text>
<line x1="737.8" y1="196.17" x2="743.2" y2="196.17" stroke="#2b2b2b" stroke-width="1.2"/>
<text x="734.2" y="202.17" font-size="16.6" text-anchor="end">pDC</text>
<line x1="737.8" y1="233.94" x2="743.2" y2="233.94" stroke="#2b2b2b" stroke-width="1.2"/>
<text x="734.2" y="239.94" font-size="16.6" text-anchor="end">mDC</text>
<line x1="737.8" y1="271.71" x2="743.2" y2="271.71" stroke="#2b2b2b" stroke-width="1.2"/>
<text x="734.2" y="277.71" font-size="16.6" text-anchor="end">VCAN+ Mono</text>
<line x1="737.8" y1="309.48" x2="743.2" y2="309.48" stroke="#2b2b2b" stroke-width="1.2"/>
<text x="734.2" y="315.48" font-size="16.6" text-anchor="end">DTNA+ Mac</text>
<line x1="737.8" y1="347.25" x2="743.2" y2="347.25" stroke="#2b2b2b" stroke-width="1.2"/>
<text x="734.2" y="353.25" font-size="16.6" text-anchor="end">SAA1+ KC</text>
<line x1="737.8" y1="385.02" x2="743.2" y2="385.02" stroke="#2b2b2b" stroke-width="1.2"/>
<text x="734.2" y="391.02" font-size="16.6" text-anchor="end">VCAM1+ KC</text>
<line x1="764.5" y1="407.2" x2="764.5" y2="412.6" stroke="#2b2b2b" stroke-width="1.2"/>
<text transform="translate(772.3,425.5) rotate(-45)" font-size="16" text-anchor="end">CD163</text>
<line x1="800.4" y1="407.2" x2="800.4" y2="412.6" stroke="#2b2b2b" stroke-width="1.2"/>
<text transform="translate(808.2,425.5) rotate(-45)" font-size="16" text-anchor="end">MARCO</text>
<line x1="836.3" y1="407.2" x2="836.3" y2="412.6" stroke="#2b2b2b" stroke-width="1.2"/>
<text transform="translate(844.1,425.5) rotate(-45)" font-size="16" text-anchor="end">VCAM1</text>
<line x1="872.2" y1="407.2" x2="872.2" y2="412.6" stroke="#2b2b2b" stroke-width="1.2"/>
<text transform="translate(880,425.5) rotate(-45)" font-size="16" text-anchor="end">SAA1</text>
<line x1="908.1" y1="407.2" x2="908.1" y2="412.6" stroke="#2b2b2b" stroke-width="1.2"/>
<text transform="translate(915.9,425.5) rotate(-45)" font-size="16" text-anchor="end">DTNA</text>
<line x1="944" y1="407.2" x2="944" y2="412.6" stroke="#2b2b2b" stroke-width="1.2"/>
<text transform="translate(951.8,425.5) rotate(-45)" font-size="16" text-anchor="end">ITGAX</text>
<line x1="979.9" y1="407.2" x2="979.9" y2="412.6" stroke="#2b2b2b" stroke-width="1.2"/>
<text transform="translate(987.7,425.5) rotate(-45)" font-size="16" text-anchor="end">GPNMB</text>
<line x1="1015.8" y1="407.2" x2="1015.8" y2="412.6" stroke="#2b2b2b" stroke-width="1.2"/>
<text transform="translate(1023.6,425.5) rotate(-45)" font-size="16" text-anchor="end">VCAN</text>
<line x1="1051.7" y1="407.2" x2="1051.7" y2="412.6" stroke="#2b2b2b" stroke-width="1.2"/>
<text transform="translate(1059.5,425.5) rotate(-45)" font-size="16" text-anchor="end">FCN1</text>
<line x1="1087.6" y1="407.2" x2="1087.6" y2="412.6" stroke="#2b2b2b" stroke-width="1.2"/>
<text transform="translate(1095.4,425.5) rotate(-45)" font-size="16" text-anchor="end">S100A8</text>
<line x1="1123.5" y1="407.2" x2="1123.5" y2="412.6" stroke="#2b2b2b" stroke-width="1.2"/>
<text transform="translate(1131.3,425.5) rotate(-45)" font-size="16" text-anchor="end">S100A9</text>
<line x1="1159.4" y1="407.2" x2="1159.4" y2="412.6" stroke="#2b2b2b" stroke-width="1.2"/>
<text transform="translate(1167.2,425.5) rotate(-45)" font-size="16" text-anchor="end">ADAM28</text>
<line x1="1195.3" y1="407.2" x2="1195.3" y2="412.6" stroke="#2b2b2b" stroke-width="1.2"/>
<text transform="translate(1203.1,425.5) rotate(-45)" font-size="16" text-anchor="end">CLNK</text>
<line x1="1231.2" y1="407.2" x2="1231.2" y2="412.6" stroke="#2b2b2b" stroke-width="1.2"/>
<text transform="translate(1239,425.5) rotate(-45)" font-size="16" text-anchor="end">DENND1B</text>
<line x1="1267.1" y1="407.2" x2="1267.1" y2="412.6" stroke="#2b2b2b" stroke-width="1.2"/>
<text transform="translate(1274.9,425.5) rotate(-45)" font-size="16" text-anchor="end">MZB1</text>
<line x1="1303" y1="407.2" x2="1303" y2="412.6" stroke="#2b2b2b" stroke-width="1.2"/>
<text transform="translate(1310.8,425.5) rotate(-45)" font-size="16" text-anchor="end">APP</text>
<line x1="1338.9" y1="407.2" x2="1338.9" y2="412.6" stroke="#2b2b2b" stroke-width="1.2"/>
<text transform="translate(1346.7,425.5) rotate(-45)" font-size="16" text-anchor="end">BCL11A</text>
<line x1="1374.8" y1="407.2" x2="1374.8" y2="412.6" stroke="#2b2b2b" stroke-width="1.2"/>
<text transform="translate(1382.6,425.5) rotate(-45)" font-size="16" text-anchor="end">MKI67</text>
<line x1="1410.7" y1="407.2" x2="1410.7" y2="412.6" stroke="#2b2b2b" stroke-width="1.2"/>
<text transform="translate(1418.5,425.5) rotate(-45)" font-size="16" text-anchor="end">TOP2A</text>
<text x="702.5" y="104" font-size="19">Percent Expressed</text>
<circle cx="888.5" cy="96.9" r="8.6" fill="#000"/>
<text x="913.5" y="103" font-size="16">25</text>
<circle cx="957.4" cy="96.9" r="11.8" fill="#000"/>
<text x="983" y="103" font-size="16">50</text>
<circle cx="1027.7" cy="96.9" r="14.2" fill="#000"/>
<text x="1054.6" y="103" font-size="16">75</text>
<text x="1092.3" y="104.9" font-size="19">Average Expression</text>
<defs><linearGradient id="gB" x1="0" x2="1" y1="0" y2="0"><stop offset="0" stop-color="#4a74b0"/><stop offset="0.15" stop-color="#7fa6cb"/><stop offset="0.3" stop-color="#e2f1f3"/><stop offset="0.45" stop-color="#eff6bd"/><stop offset="0.6" stop-color="#efd98e"/><stop offset="0.75" stop-color="#ec9b62"/><stop offset="0.9" stop-color="#df5a40"/><stop offset="1" stop-color="#d12f28"/></linearGradient></defs>
<rect x="1272.7" y="79.4" width="155.8" height="11.8" fill="url(#gB)"/>
<line x1="1319.3" y1="79.4" x2="1319.3" y2="81.8" stroke="#fff" stroke-width="1"/>
<line x1="1319.3" y1="88.8" x2="1319.3" y2="91.2" stroke="#fff" stroke-width="1"/>
<line x1="1367.5" y1="79.4" x2="1367.5" y2="81.8" stroke="#fff" stroke-width="1"/>
<line x1="1367.5" y1="88.8" x2="1367.5" y2="91.2" stroke="#fff" stroke-width="1"/>
<line x1="1415.7" y1="79.4" x2="1415.7" y2="81.8" stroke="#fff" stroke-width="1"/>
<line x1="1415.7" y1="88.8" x2="1415.7" y2="91.2" stroke="#fff" stroke-width="1"/>
<text x="1319.3" y="112.5" font-size="16" text-anchor="middle">0</text>
<text x="1367.5" y="112.5" font-size="16" text-anchor="middle">1</text>
<text x="1415.7" y="112.5" font-size="16" text-anchor="middle">2</text>
<line x1="1552.7" y1="110.2" x2="1552.7" y2="409.9" stroke="#2b2b2b" stroke-width="1.5"/>
<line x1="1552" y1="409.2" x2="1997" y2="409.2" stroke="#2b2b2b" stroke-width="1.5"/>
<line x1="1545.5" y1="189.7" x2="1552.7" y2="189.7" stroke="#2b2b2b" stroke-width="1.2"/>
<text x="1542.5" y="195.5" font-size="16" text-anchor="end">1.5</text>
<line x1="1545.5" y1="302.2" x2="1552.7" y2="302.2" stroke="#2b2b2b" stroke-width="1.2"/>
<text x="1542.5" y="308" font-size="16" text-anchor="end">1.0</text>
<line x1="1588.9" y1="409.2" x2="1588.9" y2="417" stroke="#2b2b2b" stroke-width="1.2"/>
<line x1="1650.85" y1="409.2" x2="1650.85" y2="417" stroke="#2b2b2b" stroke-width="1.2"/>
<line x1="1712.8" y1="409.2" x2="1712.8" y2="417" stroke="#2b2b2b" stroke-width="1.2"/>
<line x1="1774.75" y1="409.2" x2="1774.75" y2="417" stroke="#2b2b2b" stroke-width="1.2"/>
<line x1="1836.7" y1="409.2" x2="1836.7" y2="417" stroke="#2b2b2b" stroke-width="1.2"/>
<line x1="1898.65" y1="409.2" x2="1898.65" y2="417" stroke="#2b2b2b" stroke-width="1.2"/>
<line x1="1960.6" y1="409.2" x2="1960.6" y2="417" stroke="#2b2b2b" stroke-width="1.2"/>
<path d="M1588.9,267.77 L1650.85,308.27 L1712.8,386.12 L1774.75,274.52 L1836.7,299.28 L1898.65,123.33 L1960.6,396.02" fill="none" stroke="#4a85b8" stroke-width="1.5" stroke-dasharray="6,4"/>
<path d="M1588.9,355.97 L1650.85,288.02 L1712.8,247.97 L1774.75,272.27 L1836.7,308.73 L1898.65,303.1 L1960.6,269.8" fill="none" stroke="#cb2a2c" stroke-width="1.5" stroke-dasharray="6,4"/>
<circle cx="1588.9" cy="267.77" r="5.1" fill="#4a85b8"/>
<circle cx="1650.85" cy="308.27" r="5.1" fill="#4a85b8"/>
<circle cx="1712.8" cy="386.12" r="5.1" fill="#4a85b8"/>
<circle cx="1774.75" cy="274.52" r="5.1" fill="#4a85b8"/>
<circle cx="1836.7" cy="299.28" r="5.1" fill="#4a85b8"/>
<circle cx="1898.65" cy="123.33" r="5.1" fill="#4a85b8"/>
<circle cx="1960.6" cy="396.02" r="5.1" fill="#4a85b8"/>
<circle cx="1588.9" cy="355.97" r="5.1" fill="#cb2a2c"/>
<circle cx="1650.85" cy="288.02" r="5.1" fill="#cb2a2c"/>
<circle cx="1712.8" cy="247.97" r="5.1" fill="#cb2a2c"/>
<circle cx="1774.75" cy="272.27" r="5.1" fill="#cb2a2c"/>
<circle cx="1836.7" cy="308.73" r="5.1" fill="#cb2a2c"/>
<circle cx="1898.65" cy="303.1" r="5.1" fill="#cb2a2c"/>
<circle cx="1960.6" cy="269.8" r="5.1" fill="#cb2a2c"/>
<text transform="translate(1514.1,259.7) rotate(-90)" font-size="16" text-anchor="middle">Ro/e</text>
<text transform="translate(1601.4,427) rotate(-45)" font-size="20.9" text-anchor="end">VCAM1+ KC</text>
<text transform="translate(1663.35,427) rotate(-45)" font-size="20.9" text-anchor="end">SAA1+ KC</text>
<text transform="translate(1725.3,427) rotate(-45)" font-size="20.9" text-anchor="end">DTNA+ Mac</text>
<text transform="translate(1787.25,427) rotate(-45)" font-size="20.9" text-anchor="end">VCAN+ Mono</text>
<text transform="translate(1849.2,427) rotate(-45)" font-size="20.9" text-anchor="end">mDC</text>
<text transform="translate(1911.15,427) rotate(-45)" font-size="20.9" text-anchor="end">pDC</text>
<text transform="translate(1973.1,427) rotate(-45)" font-size="20.9" text-anchor="end">MKI67+ Mac</text>
<text x="1638.2" y="112.8" font-size="21.5">Group</text>
<line x1="1704.3" y1="110.7" x2="1721.3" y2="110.7" stroke="#4a85b8" stroke-width="1.5"/>
<circle cx="1713" cy="110.7" r="5.1" fill="#4a85b8"/>
<text x="1731.8" y="116.2" font-size="20">MASLD</text>
<line x1="1802.7" y1="110.7" x2="1819.7" y2="110.7" stroke="#cb2a2c" stroke-width="1.5"/>
<circle cx="1811.8" cy="110.7" r="5.1" fill="#cb2a2c"/>
<text x="1830.7" y="116.2" font-size="20">MASH</text>
<rect x="176.4" y="558.5" width="58.64" height="38.63" fill="#E69C68"/>
<rect x="234.64" y="558.5" width="58.64" height="38.63" fill="#EAF5DA"/>
<rect x="292.88" y="558.5" width="58.64" height="38.63" fill="#DCEEF2"/>
<rect x="351.12" y="558.5" width="58.64" height="38.63" fill="#95BDD5"/>
<rect x="409.36" y="558.5" width="58.64" height="38.63" fill="#D24234"/>
<rect x="467.6" y="558.5" width="58.64" height="38.63" fill="#DE6248"/>
<rect x="525.84" y="558.5" width="58.64" height="38.63" fill="#E69C68"/>
<rect x="584.08" y="558.5" width="58.64" height="38.63" fill="#E69C68"/>
<rect x="642.32" y="558.5" width="58.64" height="38.63" fill="#EAF5DC"/>
<rect x="176.4" y="596.73" width="58.64" height="38.63" fill="#E8D388"/>
<rect x="234.64" y="596.73" width="58.64" height="38.63" fill="#E69A67"/>
<rect x="292.88" y="596.73" width="58.64" height="38.63" fill="#E48F60"/>
<rect x="351.12" y="596.73" width="58.64" height="38.63" fill="#E48C5E"/>
<rect x="409.36" y="596.73" width="58.64" height="38.63" fill="#EEECA8"/>
<rect x="467.6" y="596.73" width="58.64" height="38.63" fill="#E8C283"/>
<rect x="525.84" y="596.73" width="58.64" height="38.63" fill="#EDD88E"/>
<rect x="584.08" y="596.73" width="58.64" height="38.63" fill="#F0F7C5"/>
<rect x="642.32" y="596.73" width="58.64" height="38.63" fill="#EAF5DC"/>
<rect x="176.4" y="634.96" width="58.64" height="38.63" fill="#E8CC88"/>
<rect x="234.64" y="634.96" width="58.64" height="38.63" fill="#E8D58A"/>
<rect x="292.88" y="634.96" width="58.64" height="38.63" fill="#EFF1AC"/>
<rect x="351.12" y="634.96" width="58.64" height="38.63" fill="#E8C584"/>
<rect x="409.36" y="634.96" width="58.64" height="38.63" fill="#EDE5A0"/>
<rect x="467.6" y="634.96" width="58.64" height="38.63" fill="#E6F2E4"/>
<rect x="525.84" y="634.96" width="58.64" height="38.63" fill="#E48558"/>
<rect x="584.08" y="634.96" width="58.64" height="38.63" fill="#DE664B"/>
<rect x="642.32" y="634.96" width="58.64" height="38.63" fill="#E69C68"/>
<rect x="176.4" y="673.19" width="58.64" height="38.63" fill="#EAF5DC"/>
<rect x="234.64" y="673.19" width="58.64" height="38.63" fill="#4D74AB"/>
<rect x="292.88" y="673.19" width="58.64" height="38.63" fill="#5C86B5"/>
<rect x="351.12" y="673.19" width="58.64" height="38.63" fill="#EADE94"/>
<rect x="409.36" y="673.19" width="58.64" height="38.63" fill="#93B9D2"/>
<rect x="467.6" y="673.19" width="58.64" height="38.63" fill="#A3C8DA"/>
<rect x="525.84" y="673.19" width="58.64" height="38.63" fill="#EEF4C0"/>
<rect x="584.08" y="673.19" width="58.64" height="38.63" fill="#A5CBDD"/>
<rect x="642.32" y="673.19" width="58.64" height="38.63" fill="#6A95C0"/>
<rect x="176.4" y="711.42" width="58.64" height="38.63" fill="#6A95C0"/>
<rect x="234.64" y="711.42" width="58.64" height="38.63" fill="#EEF5BB"/>
<rect x="292.88" y="711.42" width="58.64" height="38.63" fill="#EAE096"/>
<rect x="351.12" y="711.42" width="58.64" height="38.63" fill="#EADE94"/>
<rect x="409.36" y="711.42" width="58.64" height="38.63" fill="#EFF5C9"/>
<rect x="467.6" y="711.42" width="58.64" height="38.63" fill="#AACFDF"/>
<rect x="525.84" y="711.42" width="58.64" height="38.63" fill="#DBEDF0"/>
<rect x="584.08" y="711.42" width="58.64" height="38.63" fill="#C5E1EA"/>
<rect x="642.32" y="711.42" width="58.64" height="38.63" fill="#E6F3E6"/>
<rect x="176.4" y="749.65" width="58.64" height="38.63" fill="#EDE7A0"/>
<rect x="234.64" y="749.65" width="58.64" height="38.63" fill="#EADE94"/>
<rect x="292.88" y="749.65" width="58.64" height="38.63" fill="#EBF5D8"/>
<rect x="351.12" y="749.65" width="58.64" height="38.63" fill="#D3E9EF"/>
<rect x="409.36" y="749.65" width="58.64" height="38.63" fill="#EBF5DF"/>
<rect x="467.6" y="749.65" width="58.64" height="38.63" fill="#EDE49D"/>
<rect x="525.84" y="749.65" width="58.64" height="38.63" fill="#B4D5E2"/>
<rect x="584.08" y="749.65" width="58.64" height="38.63" fill="#EEF7BE"/>
<rect x="642.32" y="749.65" width="58.64" height="38.63" fill="#E8BD7D"/>
<rect x="176.4" y="787.88" width="58.64" height="38.63" fill="#C4E1E9"/>
<rect x="234.64" y="787.88" width="58.64" height="38.63" fill="#EEF6CB"/>
<rect x="292.88" y="787.88" width="58.64" height="38.63" fill="#E8C583"/>
<rect x="351.12" y="787.88" width="58.64" height="38.63" fill="#B4D5E2"/>
<rect x="409.36" y="787.88" width="58.64" height="38.63" fill="#D8ECF1"/>
<rect x="467.6" y="787.88" width="58.64" height="38.63" fill="#EFF7C1"/>
<rect x="525.84" y="787.88" width="58.64" height="38.63" fill="#A5CBDD"/>
<rect x="584.08" y="787.88" width="58.64" height="38.63" fill="#E5F3EC"/>
<rect x="642.32" y="787.88" width="58.64" height="38.63" fill="#E8B275"/>
<text x="705.5" y="583.6" font-size="23.7">VCAM1+ KC</text>
<text x="705.5" y="621.83" font-size="23.7">SAA1+ KC</text>
<text x="705.5" y="660.06" font-size="23.7">VCAN+ Mono</text>
<text x="705.5" y="698.29" font-size="23.7">pDC</text>
<text x="705.5" y="736.52" font-size="23.7">mDC</text>
<text x="705.5" y="774.75" font-size="23.7">DTNA+ Mac</text>
<text x="705.5" y="812.98" font-size="23.7">MKI67+ Mac</text>
<text transform="translate(216.52,838) rotate(-45)" font-size="23.7" text-anchor="end">Pro inflammatory</text>
<text transform="translate(274.76,838) rotate(-45)" font-size="23.7" text-anchor="end">Lipid mediators</text>
<text transform="translate(333,838) rotate(-45)" font-size="23.7" text-anchor="end">Glycolysis</text>
<text transform="translate(391.24,838) rotate(-45)" font-size="23.7" text-anchor="end">TCA cycle</text>
<text transform="translate(449.48,838) rotate(-45)" font-size="23.7" text-anchor="end">M1 Macrophage Polarization</text>
<text transform="translate(507.72,838) rotate(-45)" font-size="23.7" text-anchor="end">M2 Macrophage Polarization</text>
<text transform="translate(565.96,838) rotate(-45)" font-size="23.7" text-anchor="end">Type I Interferon response</text>
<text transform="translate(624.2,838) rotate(-45)" font-size="23.7" text-anchor="end">Type II Interferon Response</text>
<text transform="translate(682.44,838) rotate(-45)" font-size="23.7" text-anchor="end">Hypoxia/HIF regulated</text>
<path d="M176.4,577.62 L122,577.62 M176.4,615.85 L138.1,615.85 M176.4,654.08 L138.1,654.08 M138.1,615.85 L138.1,654.08 M138.1,634.96 L122,634.96 M122,577.62 L122,634.96 M122,606.29 L97.5,606.29 M176.4,692.3 L112.6,692.3 M176.4,730.53 L130.4,730.53 M176.4,768.76 L150.2,768.76 M176.4,807 L150.2,807 M150.2,768.76 L150.2,807 M150.2,787.88 L130.4,787.88 M130.4,730.53 L130.4,787.88 M130.4,759.21 L112.6,759.21 M112.6,692.3 L112.6,759.21 M112.6,725.76 L97.5,725.76 M97.5,606.29 L97.5,725.76" fill="none" stroke="#000" stroke-width="1.3" stroke-linecap="square"/>
<defs><linearGradient id="gD" x1="0" x2="0" y1="0" y2="1"><stop offset="0" stop-color="#d3312a"/><stop offset="0.25" stop-color="#ec9c63"/><stop offset="0.38" stop-color="#eed98c"/><stop offset="0.5" stop-color="#eff7c0"/><stop offset="0.63" stop-color="#e0f0f2"/><stop offset="0.76" stop-color="#a5cadd"/><stop offset="1" stop-color="#4a70ae"/></linearGradient></defs>
<rect x="868.1" y="558.9" width="14.9" height="225.2" fill="url(#gD)"/>
<text x="890.3" y="620" font-size="14">1</text>
<text x="890.3" y="676.7" font-size="14">0</text>
<text x="889.6" y="734.1" font-size="14">−1</text>
<path d="M1243,800.42 Q1243,800.42 1241.5,804.37 Q1240,808.31 1237.5,812.47 Q1235,816.63 1232.5,820.26 Q1230,823.9 1229.7,828.06 Q1229.4,832.21 1232.2,835.85 Q1235,839.49 1239,842.6 Q1243,845.72 1243,845.72 L1243,845.72 Z" fill="#4b87b6"/>
<path d="M1244.6,795.12 Q1244.6,795.12 1247.1,801.72 Q1249.6,808.31 1251.8,814.55 Q1254,820.78 1253.3,823.9 Q1252.6,827.02 1253.3,829.61 Q1254,832.21 1252.3,835.33 Q1250.6,838.45 1247.6,841.04 Q1244.6,843.64 1244.6,843.64 L1244.6,843.64 Z" fill="#e6a669"/>
<path d="M1319.78,809.77 Q1319.78,809.77 1318.28,812.68 Q1316.78,815.59 1313.78,819.74 Q1310.78,823.9 1307.28,827.54 Q1303.78,831.17 1302.63,832.73 Q1301.48,834.29 1306.63,836.89 Q1311.78,839.49 1315.78,842.97 Q1319.78,846.45 1319.78,846.45 L1319.78,846.45 Z" fill="#4b87b6"/>
<path d="M1321.38,804.16 Q1321.38,804.16 1323.88,808.83 Q1326.38,813.51 1329.88,818.7 Q1333.38,823.9 1334.73,825.77 Q1336.08,827.64 1333.73,830.97 Q1331.38,834.29 1328.88,837.41 Q1326.38,840.52 1323.88,842.45 Q1321.38,844.37 1321.38,844.37 L1321.38,844.37 Z" fill="#e6a669"/>
<path d="M1396.56,814.96 Q1396.56,814.96 1395.56,817.35 Q1394.56,819.74 1392.06,822.86 Q1389.56,825.98 1382.06,828.06 Q1374.56,830.13 1369.06,830.97 Q1363.56,831.8 1371.06,833.04 Q1378.56,834.29 1385.06,836.37 Q1391.56,838.45 1394.06,839.85 Q1396.56,841.25 1396.56,841.25 L1396.56,841.25 Z" fill="#4b87b6"/>
<path d="M1398.16,797.2 Q1398.16,797.2 1399.66,802.76 Q1401.16,808.31 1403.66,814.55 Q1406.16,820.78 1410.56,825.25 Q1414.96,829.72 1411.56,832 Q1408.16,834.29 1403.16,837.25 Q1398.16,840.21 1398.16,840.21 L1398.16,840.21 Z" fill="#e6a669"/>
<path d="M1473.34,798.34 Q1473.34,798.34 1471.84,803.33 Q1470.34,808.31 1467.34,812.99 Q1464.34,817.67 1463.29,821.09 Q1462.24,824.52 1463.29,828.37 Q1464.34,832.21 1466.34,836.89 Q1468.34,841.56 1470.84,845.1 Q1473.34,848.63 1473.34,848.63 L1473.34,848.63 Z" fill="#4b87b6"/>
<path d="M1474.94,801.46 Q1474.94,801.46 1477.44,807.48 Q1479.94,813.51 1481.44,818.7 Q1482.94,823.9 1484.29,828.06 Q1485.64,832.21 1485.64,835.85 Q1485.64,839.49 1482.79,842.08 Q1479.94,844.68 1477.44,846.65 Q1474.94,848.63 1474.94,848.63 L1474.94,848.63 Z" fill="#e6a669"/>
<path d="M1550.12,803.33 Q1550.12,803.33 1548.12,807.38 Q1546.12,811.43 1542.62,815.07 Q1539.12,818.7 1537.67,820.42 Q1536.22,822.13 1538.17,826.13 Q1540.12,830.13 1542.62,834.81 Q1545.12,839.49 1547.62,844.06 Q1550.12,848.63 1550.12,848.63 L1550.12,848.63 Z" fill="#4b87b6"/>
<path d="M1551.72,796.99 Q1551.72,796.99 1554.22,802.65 Q1556.72,808.31 1560.52,813.35 Q1564.32,818.39 1563.02,823.74 Q1561.72,829.1 1559.22,833.25 Q1556.72,837.41 1554.22,840.52 Q1551.72,843.64 1551.72,843.64 L1551.72,843.64 Z" fill="#e6a669"/>
<path d="M1626.9,810.91 Q1626.9,810.91 1623.9,812.73 Q1620.9,814.55 1615.9,816.63 Q1610.9,818.7 1610.4,820.26 Q1609.9,821.82 1608.4,822.86 Q1606.9,823.9 1595.4,825.98 Q1583.9,828.06 1598.4,829.1 Q1612.9,830.13 1619.9,831.8 Q1626.9,833.46 1626.9,833.46 L1626.9,833.46 Z" fill="#4b87b6"/>
<path d="M1628.5,809.15 Q1628.5,809.15 1631.5,811.33 Q1634.5,813.51 1637.5,816.63 Q1640.5,819.74 1638.5,821.3 Q1636.5,822.86 1642.5,824.42 Q1648.5,825.98 1667.5,826.86 Q1686.5,827.74 1667.5,828.94 Q1648.5,830.13 1638.5,831.22 Q1628.5,832.32 1628.5,832.32 L1628.5,832.32 Z" fill="#e6a669"/>
<path d="M1703.68,803.12 Q1703.68,803.12 1701.68,807.28 Q1699.68,811.43 1696.68,816.11 Q1693.68,820.78 1691.73,824 Q1689.78,827.22 1691.23,830.76 Q1692.68,834.29 1695.68,837.41 Q1698.68,840.52 1701.18,842.6 Q1703.68,844.68 1703.68,844.68 L1703.68,844.68 Z" fill="#4b87b6"/>
<path d="M1705.28,803.12 Q1705.28,803.12 1707.28,807.28 Q1709.28,811.43 1712.28,816.11 Q1715.28,820.78 1717.23,825.2 Q1719.18,829.61 1717.23,832.99 Q1715.28,836.37 1712.78,838.97 Q1710.28,841.56 1707.78,842.6 Q1705.28,843.64 1705.28,843.64 L1705.28,843.64 Z" fill="#e6a669"/>
<path d="M1780.46,799.48 Q1780.46,799.48 1778.46,805.46 Q1776.46,811.43 1775.46,817.67 Q1774.46,823.9 1772.46,829.35 Q1770.46,834.81 1772.46,839.23 Q1774.46,843.64 1777.46,848 Q1780.46,852.37 1780.46,852.37 L1780.46,852.37 Z" fill="#4b87b6"/>
<path d="M1782.06,793.25 Q1782.06,793.25 1783.56,800.78 Q1785.06,808.31 1786.56,816.11 Q1788.06,823.9 1788.86,826.76 Q1789.66,829.61 1788.86,834.55 Q1788.06,839.49 1785.06,845.3 Q1782.06,851.12 1782.06,851.12 L1782.06,851.12 Z" fill="#e6a669"/>
<path d="M1857.24,781.92 Q1857.24,781.92 1856.24,792.52 Q1855.24,803.12 1854.74,813.51 Q1854.24,823.9 1853.74,829.1 Q1853.24,834.29 1852.34,837.04 Q1851.44,839.8 1852.84,843.8 Q1854.24,847.8 1855.74,851.33 Q1857.24,854.86 1857.24,854.86 L1857.24,854.86 Z" fill="#4b87b6"/>
<path d="M1858.84,787.53 Q1858.84,787.53 1860.09,797.92 Q1861.34,808.31 1861.84,816.11 Q1862.34,823.9 1864.59,828.06 Q1866.84,832.21 1871.34,835.02 Q1875.84,837.82 1870.34,841.25 Q1864.84,844.68 1861.84,847.28 Q1858.84,849.88 1858.84,849.88 L1858.84,849.88 Z" fill="#e6a669"/>
<line x1="1239.6" y1="817.1" x2="1239.6" y2="833.9" stroke="#000" stroke-width="2.3"/>
<circle cx="1239.6" cy="824.5" r="4.5" fill="#000"/>
<line x1="1248" y1="811.9" x2="1248" y2="832.9" stroke="#000" stroke-width="2.3"/>
<circle cx="1248" cy="821.3" r="4.5" fill="#000"/>
<line x1="1316.6" y1="823.4" x2="1316.6" y2="836" stroke="#000" stroke-width="2.3"/>
<circle cx="1316.6" cy="829.7" r="4.5" fill="#000"/>
<line x1="1324.6" y1="819.2" x2="1324.6" y2="833.9" stroke="#000" stroke-width="2.3"/>
<circle cx="1324.6" cy="826" r="4.5" fill="#000"/>
<circle cx="1393.4" cy="830.4" r="4.5" fill="#000"/>
<line x1="1401.2" y1="815" x2="1401.2" y2="830.8" stroke="#000" stroke-width="2.3"/>
<circle cx="1401.2" cy="822.4" r="4.5" fill="#000"/>
<line x1="1470" y1="815" x2="1470" y2="832.9" stroke="#000" stroke-width="2.3"/>
<circle cx="1470" cy="823" r="4.5" fill="#000"/>
<line x1="1477.8" y1="817.1" x2="1477.8" y2="836" stroke="#000" stroke-width="2.3"/>
<circle cx="1477.8" cy="826" r="4.5" fill="#000"/>
<line x1="1547" y1="817.2" x2="1547" y2="832.3" stroke="#000" stroke-width="2.3"/>
<circle cx="1547" cy="825.2" r="4.5" fill="#000"/>
<line x1="1555.1" y1="812.1" x2="1555.1" y2="828.5" stroke="#000" stroke-width="2.3"/>
<circle cx="1555.1" cy="820.4" r="4.5" fill="#000"/>
<circle cx="1623.8" cy="824.2" r="4.5" fill="#000"/>
<circle cx="1631.9" cy="824.2" r="4.5" fill="#000"/>
<line x1="1700.6" y1="818.4" x2="1700.6" y2="833.5" stroke="#000" stroke-width="2.3"/>
<circle cx="1700.6" cy="826" r="4.5" fill="#000"/>
<line x1="1708.7" y1="818.4" x2="1708.7" y2="833.5" stroke="#000" stroke-width="2.3"/>
<circle cx="1708.7" cy="825.2" r="4.5" fill="#000"/>
<line x1="1777.4" y1="818.4" x2="1777.4" y2="838.6" stroke="#000" stroke-width="2.3"/>
<circle cx="1777.4" cy="827.7" r="4.5" fill="#000"/>
<line x1="1785.5" y1="813.4" x2="1785.5" y2="836" stroke="#000" stroke-width="2.3"/>
<circle cx="1785.5" cy="824.2" r="4.5" fill="#000"/>
<line x1="1854.3" y1="798.3" x2="1854.3" y2="839.8" stroke="#000" stroke-width="2.3"/>
<circle cx="1854.3" cy="815.9" r="4.5" fill="#000"/>
<line x1="1862.3" y1="808.3" x2="1862.3" y2="838.6" stroke="#000" stroke-width="2.3"/>
<circle cx="1862.3" cy="822.2" r="4.5" fill="#000"/>
<rect x="1186.5" y="597.9" width="728.9" height="279.7" fill="none" stroke="#3a3a3a" stroke-width="1.3"/>
<line x1="1180.8" y1="616.1" x2="1186.5" y2="616.1" stroke="#3a3a3a" stroke-width="1.2"/>
<text x="1176.8" y="622.1" font-size="17" text-anchor="end" fill="#4d4d4d" stroke="#4d4d4d">2.0</text>
<line x1="1180.8" y1="668.05" x2="1186.5" y2="668.05" stroke="#3a3a3a" stroke-width="1.2"/>
<text x="1176.8" y="674.05" font-size="17" text-anchor="end" fill="#4d4d4d" stroke="#4d4d4d">1.5</text>
<line x1="1180.8" y1="720" x2="1186.5" y2="720" stroke="#3a3a3a" stroke-width="1.2"/>
<text x="1176.8" y="726" font-size="17" text-anchor="end" fill="#4d4d4d" stroke="#4d4d4d">1.0</text>
<line x1="1180.8" y1="771.95" x2="1186.5" y2="771.95" stroke="#3a3a3a" stroke-width="1.2"/>
<text x="1176.8" y="777.95" font-size="17" text-anchor="end" fill="#4d4d4d" stroke="#4d4d4d">0.5</text>
<line x1="1180.8" y1="823.9" x2="1186.5" y2="823.9" stroke="#3a3a3a" stroke-width="1.2"/>
<text x="1176.8" y="829.9" font-size="17" text-anchor="end" fill="#4d4d4d" stroke="#4d4d4d">0.0</text>
<line x1="1180.8" y1="875.85" x2="1186.5" y2="875.85" stroke="#3a3a3a" stroke-width="1.2"/>
<text x="1176.8" y="881.85" font-size="17" text-anchor="end" fill="#4d4d4d" stroke="#4d4d4d">−0.5</text>
<line x1="1243.8" y1="877.6" x2="1243.8" y2="884" stroke="#3a3a3a" stroke-width="1.2"/>
<text transform="translate(1254.8,895) rotate(-45)" font-size="24.5" text-anchor="end">Glycolysis</text>
<line x1="1320.58" y1="877.6" x2="1320.58" y2="884" stroke="#3a3a3a" stroke-width="1.2"/>
<text transform="translate(1331.58,895) rotate(-45)" font-size="24.5" text-anchor="end">Hypoxia HIF Regulated</text>
<line x1="1397.36" y1="877.6" x2="1397.36" y2="884" stroke="#3a3a3a" stroke-width="1.2"/>
<text transform="translate(1408.36,895) rotate(-45)" font-size="24.5" text-anchor="end">Lipid Mediators</text>
<line x1="1474.14" y1="877.6" x2="1474.14" y2="884" stroke="#3a3a3a" stroke-width="1.2"/>
<text transform="translate(1485.14,895) rotate(-45)" font-size="24.5" text-anchor="end">M1</text>
<line x1="1550.92" y1="877.6" x2="1550.92" y2="884" stroke="#3a3a3a" stroke-width="1.2"/>
<text transform="translate(1561.92,895) rotate(-45)" font-size="24.5" text-anchor="end">M2</text>
<line x1="1627.7" y1="877.6" x2="1627.7" y2="884" stroke="#3a3a3a" stroke-width="1.2"/>
<text transform="translate(1638.7,895) rotate(-45)" font-size="24.5" text-anchor="end">Pro Inflammatory</text>
<line x1="1704.48" y1="877.6" x2="1704.48" y2="884" stroke="#3a3a3a" stroke-width="1.2"/>
<text transform="translate(1715.48,895) rotate(-45)" font-size="24.5" text-anchor="end">TCA Cycle</text>
<line x1="1781.26" y1="877.6" x2="1781.26" y2="884" stroke="#3a3a3a" stroke-width="1.2"/>
<text transform="translate(1792.26,895) rotate(-45)" font-size="24.5" text-anchor="end">Type I Interferon</text>
<line x1="1858.04" y1="877.6" x2="1858.04" y2="884" stroke="#3a3a3a" stroke-width="1.2"/>
<text transform="translate(1869.04,895) rotate(-45)" font-size="24.5" text-anchor="end">Type II Interferon</text>
<text x="1243.8" y="628" font-size="20" text-anchor="middle">***</text>
<text x="1320.58" y="628" font-size="20" text-anchor="middle">***</text>
<text x="1397.36" y="628" font-size="20" text-anchor="middle">***</text>
<text x="1474.14" y="628" font-size="20" text-anchor="middle">***</text>
<text x="1550.92" y="628" font-size="20" text-anchor="middle">***</text>
<line x1="1622.7" y1="622" x2="1632.7" y2="622" stroke="#000" stroke-width="2"/>
<text x="1704.48" y="628" font-size="20" text-anchor="middle">***</text>
<text x="1781.26" y="628" font-size="20" text-anchor="middle">***</text>
<text x="1858.04" y="628" font-size="20" text-anchor="middle">***</text>
<text transform="translate(1133.6,737.4) rotate(-90)" font-size="20.5" text-anchor="middle">Score</text>
<rect x="1456.9" y="536.4" width="27.7" height="27.7" fill="#4b87b6"/>
<circle cx="1470.75" cy="550.25" r="4.6" fill="#000"/>
<text x="1497.9" y="556.5" font-size="17.6">MASLD</text>
<rect x="1568.9" y="536.4" width="27.7" height="27.7" fill="#e6a669"/>
<circle cx="1582.75" cy="550.25" r="4.6" fill="#000"/>
<text x="1610" y="556.5" font-size="17.6">MASH</text>
<rect x="395.7" y="1203.4" width="61.23" height="13.74" fill="#f4d6d3"/>
<rect x="456.63" y="1203.4" width="61.23" height="13.74" fill="#f6e0de"/>
<rect x="517.56" y="1203.4" width="61.23" height="13.74" fill="#e0e4f0"/>
<rect x="578.49" y="1203.4" width="61.23" height="13.74" fill="#d0d9eb"/>
<rect x="639.42" y="1203.4" width="61.23" height="13.74" fill="#e78b86"/>
<rect x="700.35" y="1203.4" width="61.23" height="13.74" fill="#d8dfed"/>
<rect x="761.28" y="1203.4" width="61.23" height="13.74" fill="#c4d1e8"/>
<rect x="395.7" y="1216.84" width="61.23" height="13.74" fill="#e8eaf2"/>
<rect x="456.63" y="1216.84" width="61.23" height="13.74" fill="#fbf5f3"/>
<rect x="517.56" y="1216.84" width="61.23" height="13.74" fill="#f0f0f4"/>
<rect x="578.49" y="1216.84" width="61.23" height="13.74" fill="#fcf8f7"/>
<rect x="639.42" y="1216.84" width="61.23" height="13.74" fill="#e47974"/>
<rect x="700.35" y="1216.84" width="61.23" height="13.74" fill="#a4bade"/>
<rect x="761.28" y="1216.84" width="61.23" height="13.74" fill="#fbf5f3"/>
<rect x="395.7" y="1230.29" width="61.23" height="13.74" fill="#fbf5f3"/>
<rect x="456.63" y="1230.29" width="61.23" height="13.74" fill="#f6ddda"/>
<rect x="517.56" y="1230.29" width="61.23" height="13.74" fill="#f9eae9"/>
<rect x="578.49" y="1230.29" width="61.23" height="13.74" fill="#f9eae9"/>
<rect x="639.42" y="1230.29" width="61.23" height="13.74" fill="#eaa5a0"/>
<rect x="700.35" y="1230.29" width="61.23" height="13.74" fill="#93aed8"/>
<rect x="761.28" y="1230.29" width="61.23" height="13.74" fill="#d0d9eb"/>
<rect x="395.7" y="1243.73" width="61.23" height="13.74" fill="#ccd6ea"/>
<rect x="456.63" y="1243.73" width="61.23" height="13.74" fill="#f4d6d3"/>
<rect x="517.56" y="1243.73" width="61.23" height="13.74" fill="#f8e7e5"/>
<rect x="578.49" y="1243.73" width="61.23" height="13.74" fill="#f4d6d3"/>
<rect x="639.42" y="1243.73" width="61.23" height="13.74" fill="#8ba8d6"/>
<rect x="700.35" y="1243.73" width="61.23" height="13.74" fill="#f6ddda"/>
<rect x="761.28" y="1243.73" width="61.23" height="13.74" fill="#f6ddda"/>
<rect x="395.7" y="1257.18" width="61.23" height="13.74" fill="#eaa5a0"/>
<rect x="456.63" y="1257.18" width="61.23" height="13.74" fill="#f3d2cf"/>
<rect x="517.56" y="1257.18" width="61.23" height="13.74" fill="#f8e7e5"/>
<rect x="578.49" y="1257.18" width="61.23" height="13.74" fill="#f9eae9"/>
<rect x="639.42" y="1257.18" width="61.23" height="13.74" fill="#acc0e0"/>
<rect x="700.35" y="1257.18" width="61.23" height="13.74" fill="#b4c5e3"/>
<rect x="761.28" y="1257.18" width="61.23" height="13.74" fill="#f0f0f4"/>
<rect x="395.7" y="1270.62" width="61.23" height="13.74" fill="#edb7b2"/>
<rect x="456.63" y="1270.62" width="61.23" height="13.74" fill="#f3cfcc"/>
<rect x="517.56" y="1270.62" width="61.23" height="13.74" fill="#f3d2cf"/>
<rect x="578.49" y="1270.62" width="61.23" height="13.74" fill="#f7e4e1"/>
<rect x="639.42" y="1270.62" width="61.23" height="13.74" fill="#c0cee7"/>
<rect x="700.35" y="1270.62" width="61.23" height="13.74" fill="#a4bade"/>
<rect x="761.28" y="1270.62" width="61.23" height="13.74" fill="#e4e7f1"/>
<rect x="395.7" y="1284.06" width="61.23" height="13.74" fill="#eaa5a0"/>
<rect x="456.63" y="1284.06" width="61.23" height="13.74" fill="#f5d9d6"/>
<rect x="517.56" y="1284.06" width="61.23" height="13.74" fill="#f6e0de"/>
<rect x="578.49" y="1284.06" width="61.23" height="13.74" fill="#f5d9d6"/>
<rect x="639.42" y="1284.06" width="61.23" height="13.74" fill="#c0cee7"/>
<rect x="700.35" y="1284.06" width="61.23" height="13.74" fill="#bccbe6"/>
<rect x="761.28" y="1284.06" width="61.23" height="13.74" fill="#ccd6ea"/>
<rect x="395.7" y="1297.51" width="61.23" height="13.74" fill="#eaa19c"/>
<rect x="456.63" y="1297.51" width="61.23" height="13.74" fill="#f3d2cf"/>
<rect x="517.56" y="1297.51" width="61.23" height="13.74" fill="#fbf5f3"/>
<rect x="578.49" y="1297.51" width="61.23" height="13.74" fill="#f3d2cf"/>
<rect x="639.42" y="1297.51" width="61.23" height="13.74" fill="#c0cee7"/>
<rect x="700.35" y="1297.51" width="61.23" height="13.74" fill="#b8c8e5"/>
<rect x="761.28" y="1297.51" width="61.23" height="13.74" fill="#d4dcec"/>
<rect x="395.7" y="1310.95" width="61.23" height="13.74" fill="#e99a95"/>
<rect x="456.63" y="1310.95" width="61.23" height="13.74" fill="#f5d9d6"/>
<rect x="517.56" y="1310.95" width="61.23" height="13.74" fill="#f6e0de"/>
<rect x="578.49" y="1310.95" width="61.23" height="13.74" fill="#faf1f0"/>
<rect x="639.42" y="1310.95" width="61.23" height="13.74" fill="#c0cee7"/>
<rect x="700.35" y="1310.95" width="61.23" height="13.74" fill="#c4d1e8"/>
<rect x="761.28" y="1310.95" width="61.23" height="13.74" fill="#c8d3e9"/>
<rect x="395.7" y="1324.4" width="61.23" height="13.74" fill="#e99d98"/>
<rect x="456.63" y="1324.4" width="61.23" height="13.74" fill="#f3cfcc"/>
<rect x="517.56" y="1324.4" width="61.23" height="13.74" fill="#f6e0de"/>
<rect x="578.49" y="1324.4" width="61.23" height="13.74" fill="#faf1f0"/>
<rect x="639.42" y="1324.4" width="61.23" height="13.74" fill="#b0c2e2"/>
<rect x="700.35" y="1324.4" width="61.23" height="13.74" fill="#c8d3e9"/>
<rect x="761.28" y="1324.4" width="61.23" height="13.74" fill="#d4dcec"/>
<rect x="395.7" y="1337.84" width="61.23" height="13.74" fill="#e68782"/>
<rect x="456.63" y="1337.84" width="61.23" height="13.74" fill="#faf1f0"/>
<rect x="517.56" y="1337.84" width="61.23" height="13.74" fill="#f9eae9"/>
<rect x="578.49" y="1337.84" width="61.23" height="13.74" fill="#e4e7f1"/>
<rect x="639.42" y="1337.84" width="61.23" height="13.74" fill="#e0e4f0"/>
<rect x="700.35" y="1337.84" width="61.23" height="13.74" fill="#acc0e0"/>
<rect x="761.28" y="1337.84" width="61.23" height="13.74" fill="#fcf8f7"/>
<rect x="395.7" y="1351.28" width="61.23" height="13.74" fill="#e99d98"/>
<rect x="456.63" y="1351.28" width="61.23" height="13.74" fill="#f7e4e1"/>
<rect x="517.56" y="1351.28" width="61.23" height="13.74" fill="#f3cfcc"/>
<rect x="578.49" y="1351.28" width="61.23" height="13.74" fill="#e8eaf2"/>
<rect x="639.42" y="1351.28" width="61.23" height="13.74" fill="#e8eaf2"/>
<rect x="700.35" y="1351.28" width="61.23" height="13.74" fill="#a0b7dc"/>
<rect x="761.28" y="1351.28" width="61.23" height="13.74" fill="#e8eaf2"/>
<rect x="395.7" y="1364.73" width="61.23" height="13.74" fill="#e89691"/>
<rect x="456.63" y="1364.73" width="61.23" height="13.74" fill="#faeeec"/>
<rect x="517.56" y="1364.73" width="61.23" height="13.74" fill="#f9eae9"/>
<rect x="578.49" y="1364.73" width="61.23" height="13.74" fill="#faeeec"/>
<rect x="639.42" y="1364.73" width="61.23" height="13.74" fill="#fcf8f7"/>
<rect x="700.35" y="1364.73" width="61.23" height="13.74" fill="#b0c2e2"/>
<rect x="761.28" y="1364.73" width="61.23" height="13.74" fill="#c4d1e8"/>
<rect x="395.7" y="1378.17" width="61.23" height="13.74" fill="#e99d98"/>
<rect x="456.63" y="1378.17" width="61.23" height="13.74" fill="#f6ddda"/>
<rect x="517.56" y="1378.17" width="61.23" height="13.74" fill="#f5d9d6"/>
<rect x="578.49" y="1378.17" width="61.23" height="13.74" fill="#fcf8f7"/>
<rect x="639.42" y="1378.17" width="61.23" height="13.74" fill="#e0e4f0"/>
<rect x="700.35" y="1378.17" width="61.23" height="13.74" fill="#a8bddf"/>
<rect x="761.28" y="1378.17" width="61.23" height="13.74" fill="#d8dfed"/>
<rect x="395.7" y="1391.62" width="61.23" height="13.74" fill="#e99d98"/>
<rect x="456.63" y="1391.62" width="61.23" height="13.74" fill="#f3cfcc"/>
<rect x="517.56" y="1391.62" width="61.23" height="13.74" fill="#f7e4e1"/>
<rect x="578.49" y="1391.62" width="61.23" height="13.74" fill="#fcf8f7"/>
<rect x="639.42" y="1391.62" width="61.23" height="13.74" fill="#d8dfed"/>
<rect x="700.35" y="1391.62" width="61.23" height="13.74" fill="#b4c5e3"/>
<rect x="761.28" y="1391.62" width="61.23" height="13.74" fill="#d0d9eb"/>
<rect x="395.7" y="1405.06" width="61.23" height="13.74" fill="#ecb4ae"/>
<rect x="456.63" y="1405.06" width="61.23" height="13.74" fill="#faf1f0"/>
<rect x="517.56" y="1405.06" width="61.23" height="13.74" fill="#f6e0de"/>
<rect x="578.49" y="1405.06" width="61.23" height="13.74" fill="#f2ccc8"/>
<rect x="639.42" y="1405.06" width="61.23" height="13.74" fill="#d8dfed"/>
<rect x="700.35" y="1405.06" width="61.23" height="13.74" fill="#8ba8d6"/>
<rect x="761.28" y="1405.06" width="61.23" height="13.74" fill="#f4f2f5"/>
<rect x="395.7" y="1418.5" width="61.23" height="13.74" fill="#e78f8a"/>
<rect x="456.63" y="1418.5" width="61.23" height="13.74" fill="#fcf8f7"/>
<rect x="517.56" y="1418.5" width="61.23" height="13.74" fill="#fbf5f3"/>
<rect x="578.49" y="1418.5" width="61.23" height="13.74" fill="#f5d9d6"/>
<rect x="639.42" y="1418.5" width="61.23" height="13.74" fill="#e8eaf2"/>
<rect x="700.35" y="1418.5" width="61.23" height="13.74" fill="#9cb4db"/>
<rect x="761.28" y="1418.5" width="61.23" height="13.74" fill="#e4e7f1"/>
<rect x="395.7" y="1431.95" width="61.23" height="13.74" fill="#efc1bd"/>
<rect x="456.63" y="1431.95" width="61.23" height="13.74" fill="#f2ccc8"/>
<rect x="517.56" y="1431.95" width="61.23" height="13.74" fill="#f5d9d6"/>
<rect x="578.49" y="1431.95" width="61.23" height="13.74" fill="#faf1f0"/>
<rect x="639.42" y="1431.95" width="61.23" height="13.74" fill="#d8dfed"/>
<rect x="700.35" y="1431.95" width="61.23" height="13.74" fill="#83a3d3"/>
<rect x="761.28" y="1431.95" width="61.23" height="13.74" fill="#fcf8f7"/>
<rect x="395.7" y="1445.39" width="61.23" height="13.74" fill="#eaa5a0"/>
<rect x="456.63" y="1445.39" width="61.23" height="13.74" fill="#f6e0de"/>
<rect x="517.56" y="1445.39" width="61.23" height="13.74" fill="#f5d9d6"/>
<rect x="578.49" y="1445.39" width="61.23" height="13.74" fill="#f9eae9"/>
<rect x="639.42" y="1445.39" width="61.23" height="13.74" fill="#e8eaf2"/>
<rect x="700.35" y="1445.39" width="61.23" height="13.74" fill="#8ba8d6"/>
<rect x="761.28" y="1445.39" width="61.23" height="13.74" fill="#dce2ee"/>
<rect x="395.7" y="1458.84" width="61.23" height="13.74" fill="#ebaca7"/>
<rect x="456.63" y="1458.84" width="61.23" height="13.74" fill="#f1c8c4"/>
<rect x="517.56" y="1458.84" width="61.23" height="13.74" fill="#fbf5f3"/>
<rect x="578.49" y="1458.84" width="61.23" height="13.74" fill="#f8e7e5"/>
<rect x="639.42" y="1458.84" width="61.23" height="13.74" fill="#f4f2f5"/>
<rect x="700.35" y="1458.84" width="61.23" height="13.74" fill="#83a3d3"/>
<rect x="761.28" y="1458.84" width="61.23" height="13.74" fill="#e4e7f1"/>
<rect x="395.7" y="1472.28" width="61.23" height="13.74" fill="#e8928d"/>
<rect x="456.63" y="1472.28" width="61.23" height="13.74" fill="#f0f0f4"/>
<rect x="517.56" y="1472.28" width="61.23" height="13.74" fill="#f3cfcc"/>
<rect x="578.49" y="1472.28" width="61.23" height="13.74" fill="#f4f2f5"/>
<rect x="639.42" y="1472.28" width="61.23" height="13.74" fill="#b0c2e2"/>
<rect x="700.35" y="1472.28" width="61.23" height="13.74" fill="#b8c8e5"/>
<rect x="761.28" y="1472.28" width="61.23" height="13.74" fill="#faf1f0"/>
<rect x="395.7" y="1485.72" width="61.23" height="13.74" fill="#e89691"/>
<rect x="456.63" y="1485.72" width="61.23" height="13.74" fill="#faf1f0"/>
<rect x="517.56" y="1485.72" width="61.23" height="13.74" fill="#f5d9d6"/>
<rect x="578.49" y="1485.72" width="61.23" height="13.74" fill="#d0d9eb"/>
<rect x="639.42" y="1485.72" width="61.23" height="13.74" fill="#d0d9eb"/>
<rect x="700.35" y="1485.72" width="61.23" height="13.74" fill="#a4bade"/>
<rect x="761.28" y="1485.72" width="61.23" height="13.74" fill="#f7e4e1"/>
<rect x="395.7" y="1499.17" width="61.23" height="13.74" fill="#e6847f"/>
<rect x="456.63" y="1499.17" width="61.23" height="13.74" fill="#fcf8f7"/>
<rect x="517.56" y="1499.17" width="61.23" height="13.74" fill="#f7e4e1"/>
<rect x="578.49" y="1499.17" width="61.23" height="13.74" fill="#c8d3e9"/>
<rect x="639.42" y="1499.17" width="61.23" height="13.74" fill="#c4d1e8"/>
<rect x="700.35" y="1499.17" width="61.23" height="13.74" fill="#d0d9eb"/>
<rect x="761.28" y="1499.17" width="61.23" height="13.74" fill="#faf1f0"/>
<rect x="395.7" y="1512.61" width="61.23" height="13.74" fill="#e99d98"/>
<rect x="456.63" y="1512.61" width="61.23" height="13.74" fill="#f7e4e1"/>
<rect x="517.56" y="1512.61" width="61.23" height="13.74" fill="#f7e4e1"/>
<rect x="578.49" y="1512.61" width="61.23" height="13.74" fill="#f7e4e1"/>
<rect x="639.42" y="1512.61" width="61.23" height="13.74" fill="#87a6d4"/>
<rect x="700.35" y="1512.61" width="61.23" height="13.74" fill="#e4e7f1"/>
<rect x="761.28" y="1512.61" width="61.23" height="13.74" fill="#ecedf3"/>
<rect x="395.7" y="1526.06" width="61.23" height="13.74" fill="#e99a95"/>
<rect x="456.63" y="1526.06" width="61.23" height="13.74" fill="#f6ddda"/>
<rect x="517.56" y="1526.06" width="61.23" height="13.74" fill="#f4d6d3"/>
<rect x="578.49" y="1526.06" width="61.23" height="13.74" fill="#d8dfed"/>
<rect x="639.42" y="1526.06" width="61.23" height="13.74" fill="#a8bddf"/>
<rect x="700.35" y="1526.06" width="61.23" height="13.74" fill="#c4d1e8"/>
<rect x="761.28" y="1526.06" width="61.23" height="13.74" fill="#faf1f0"/>
<rect x="395.7" y="1539.5" width="61.23" height="13.74" fill="#e99a95"/>
<rect x="456.63" y="1539.5" width="61.23" height="13.74" fill="#f6ddda"/>
<rect x="517.56" y="1539.5" width="61.23" height="13.74" fill="#f6ddda"/>
<rect x="578.49" y="1539.5" width="61.23" height="13.74" fill="#e4e7f1"/>
<rect x="639.42" y="1539.5" width="61.23" height="13.74" fill="#97b1da"/>
<rect x="700.35" y="1539.5" width="61.23" height="13.74" fill="#d8dfed"/>
<rect x="761.28" y="1539.5" width="61.23" height="13.74" fill="#fcf8f7"/>
<rect x="395.7" y="1552.94" width="61.23" height="13.74" fill="#ecb4ae"/>
<rect x="456.63" y="1552.94" width="61.23" height="13.74" fill="#f0c5c1"/>
<rect x="517.56" y="1552.94" width="61.23" height="13.74" fill="#efbeb9"/>
<rect x="578.49" y="1552.94" width="61.23" height="13.74" fill="#d0d9eb"/>
<rect x="639.42" y="1552.94" width="61.23" height="13.74" fill="#d8dfed"/>
<rect x="700.35" y="1552.94" width="61.23" height="13.74" fill="#d4dcec"/>
<rect x="761.28" y="1552.94" width="61.23" height="13.74" fill="#d0d9eb"/>
<rect x="395.7" y="1566.39" width="61.23" height="13.74" fill="#e99a95"/>
<rect x="456.63" y="1566.39" width="61.23" height="13.74" fill="#efbeb9"/>
<rect x="517.56" y="1566.39" width="61.23" height="13.74" fill="#f8f5f6"/>
<rect x="578.49" y="1566.39" width="61.23" height="13.74" fill="#f4f2f5"/>
<rect x="639.42" y="1566.39" width="61.23" height="13.74" fill="#c4d1e8"/>
<rect x="700.35" y="1566.39" width="61.23" height="13.74" fill="#e0e4f0"/>
<rect x="761.28" y="1566.39" width="61.23" height="13.74" fill="#ccd6ea"/>
<rect x="395.7" y="1579.83" width="61.23" height="13.74" fill="#e99a95"/>
<rect x="456.63" y="1579.83" width="61.23" height="13.74" fill="#efbeb9"/>
<rect x="517.56" y="1579.83" width="61.23" height="13.74" fill="#fbf5f3"/>
<rect x="578.49" y="1579.83" width="61.23" height="13.74" fill="#f8f5f6"/>
<rect x="639.42" y="1579.83" width="61.23" height="13.74" fill="#c4d1e8"/>
<rect x="700.35" y="1579.83" width="61.23" height="13.74" fill="#dce2ee"/>
<rect x="761.28" y="1579.83" width="61.23" height="13.74" fill="#ccd6ea"/>
<rect x="395.7" y="1593.28" width="61.23" height="13.74" fill="#e8eaf2"/>
<rect x="456.63" y="1593.28" width="61.23" height="13.74" fill="#e47974"/>
<rect x="517.56" y="1593.28" width="61.23" height="13.74" fill="#ecedf3"/>
<rect x="578.49" y="1593.28" width="61.23" height="13.74" fill="#f0f0f4"/>
<rect x="639.42" y="1593.28" width="61.23" height="13.74" fill="#fcf7f6"/>
<rect x="700.35" y="1593.28" width="61.23" height="13.74" fill="#d0d9eb"/>
<rect x="761.28" y="1593.28" width="61.23" height="13.74" fill="#e0e4f0"/>
<rect x="395.7" y="1606.72" width="61.23" height="13.74" fill="#f0f0f4"/>
<rect x="456.63" y="1606.72" width="61.23" height="13.74" fill="#e57c77"/>
<rect x="517.56" y="1606.72" width="61.23" height="13.74" fill="#f0f0f4"/>
<rect x="578.49" y="1606.72" width="61.23" height="13.74" fill="#f8f5f6"/>
<rect x="639.42" y="1606.72" width="61.23" height="13.74" fill="#fcf7f6"/>
<rect x="700.35" y="1606.72" width="61.23" height="13.74" fill="#c4d1e8"/>
<rect x="761.28" y="1606.72" width="61.23" height="13.74" fill="#e0e4f0"/>
<rect x="395.7" y="1620.16" width="61.23" height="13.74" fill="#f3cfcc"/>
<rect x="456.63" y="1620.16" width="61.23" height="13.74" fill="#f5d9d6"/>
<rect x="517.56" y="1620.16" width="61.23" height="13.74" fill="#f8f5f6"/>
<rect x="578.49" y="1620.16" width="61.23" height="13.74" fill="#e99d98"/>
<rect x="639.42" y="1620.16" width="61.23" height="13.74" fill="#ccd6ea"/>
<rect x="700.35" y="1620.16" width="61.23" height="13.74" fill="#e0e4f0"/>
<rect x="761.28" y="1620.16" width="61.23" height="13.74" fill="#b4c5e3"/>
<rect x="395.7" y="1633.61" width="61.23" height="13.74" fill="#f8f5f6"/>
<rect x="456.63" y="1633.61" width="61.23" height="13.74" fill="#f3d2cf"/>
<rect x="517.56" y="1633.61" width="61.23" height="13.74" fill="#f8f5f6"/>
<rect x="578.49" y="1633.61" width="61.23" height="13.74" fill="#e68782"/>
<rect x="639.42" y="1633.61" width="61.23" height="13.74" fill="#ccd6ea"/>
<rect x="700.35" y="1633.61" width="61.23" height="13.74" fill="#d8dfed"/>
<rect x="761.28" y="1633.61" width="61.23" height="13.74" fill="#ccd6ea"/>
<rect x="395.7" y="1647.05" width="61.23" height="13.74" fill="#f6ddda"/>
<rect x="456.63" y="1647.05" width="61.23" height="13.74" fill="#f2ccc8"/>
<rect x="517.56" y="1647.05" width="61.23" height="13.74" fill="#faf1f0"/>
<rect x="578.49" y="1647.05" width="61.23" height="13.74" fill="#eaa19c"/>
<rect x="639.42" y="1647.05" width="61.23" height="13.74" fill="#ccd6ea"/>
<rect x="700.35" y="1647.05" width="61.23" height="13.74" fill="#b4c5e3"/>
<rect x="761.28" y="1647.05" width="61.23" height="13.74" fill="#dce2ee"/>
<rect x="395.7" y="1660.5" width="61.23" height="13.74" fill="#f8f5f6"/>
<rect x="456.63" y="1660.5" width="61.23" height="13.74" fill="#efc1bd"/>
<rect x="517.56" y="1660.5" width="61.23" height="13.74" fill="#faf1f0"/>
<rect x="578.49" y="1660.5" width="61.23" height="13.74" fill="#e99a95"/>
<rect x="639.42" y="1660.5" width="61.23" height="13.74" fill="#dce2ee"/>
<rect x="700.35" y="1660.5" width="61.23" height="13.74" fill="#bccbe6"/>
<rect x="761.28" y="1660.5" width="61.23" height="13.74" fill="#ccd6ea"/>
<rect x="395.7" y="1673.94" width="61.23" height="13.74" fill="#faeeec"/>
<rect x="456.63" y="1673.94" width="61.23" height="13.74" fill="#f2ccc8"/>
<rect x="517.56" y="1673.94" width="61.23" height="13.74" fill="#edb7b2"/>
<rect x="578.49" y="1673.94" width="61.23" height="13.74" fill="#f0c5c1"/>
<rect x="639.42" y="1673.94" width="61.23" height="13.74" fill="#c4d1e8"/>
<rect x="700.35" y="1673.94" width="61.23" height="13.74" fill="#c0cee7"/>
<rect x="761.28" y="1673.94" width="61.23" height="13.74" fill="#c4d1e8"/>
<rect x="395.7" y="1687.38" width="61.23" height="13.74" fill="#f3d2cf"/>
<rect x="456.63" y="1687.38" width="61.23" height="13.74" fill="#eebbb6"/>
<rect x="517.56" y="1687.38" width="61.23" height="13.74" fill="#f6ddda"/>
<rect x="578.49" y="1687.38" width="61.23" height="13.74" fill="#f1c8c4"/>
<rect x="639.42" y="1687.38" width="61.23" height="13.74" fill="#c8d3e9"/>
<rect x="700.35" y="1687.38" width="61.23" height="13.74" fill="#a4bade"/>
<rect x="761.28" y="1687.38" width="61.23" height="13.74" fill="#e0e4f0"/>
<rect x="395.7" y="1700.83" width="61.23" height="13.74" fill="#faeeec"/>
<rect x="456.63" y="1700.83" width="61.23" height="13.74" fill="#f2ccc8"/>
<rect x="517.56" y="1700.83" width="61.23" height="13.74" fill="#f3d2cf"/>
<rect x="578.49" y="1700.83" width="61.23" height="13.74" fill="#efbeb9"/>
<rect x="639.42" y="1700.83" width="61.23" height="13.74" fill="#c8d3e9"/>
<rect x="700.35" y="1700.83" width="61.23" height="13.74" fill="#8fabd7"/>
<rect x="761.28" y="1700.83" width="61.23" height="13.74" fill="#f4f2f5"/>
<rect x="395.7" y="1714.27" width="61.23" height="13.74" fill="#f0c5c1"/>
<rect x="456.63" y="1714.27" width="61.23" height="13.74" fill="#f7e4e1"/>
<rect x="517.56" y="1714.27" width="61.23" height="13.74" fill="#f5d9d6"/>
<rect x="578.49" y="1714.27" width="61.23" height="13.74" fill="#f7e4e1"/>
<rect x="639.42" y="1714.27" width="61.23" height="13.74" fill="#f4d6d3"/>
<rect x="700.35" y="1714.27" width="61.23" height="13.74" fill="#8ba8d6"/>
<rect x="761.28" y="1714.27" width="61.23" height="13.74" fill="#c4d1e8"/>
<rect x="395.7" y="1727.72" width="61.23" height="13.74" fill="#f9eae9"/>
<rect x="456.63" y="1727.72" width="61.23" height="13.74" fill="#efbeb9"/>
<rect x="517.56" y="1727.72" width="61.23" height="13.74" fill="#efc1bd"/>
<rect x="578.49" y="1727.72" width="61.23" height="13.74" fill="#f8e7e5"/>
<rect x="639.42" y="1727.72" width="61.23" height="13.74" fill="#fbf5f3"/>
<rect x="700.35" y="1727.72" width="61.23" height="13.74" fill="#83a3d3"/>
<rect x="761.28" y="1727.72" width="61.23" height="13.74" fill="#d0d9eb"/>
<rect x="395.7" y="1741.16" width="61.23" height="13.74" fill="#f7e4e1"/>
<rect x="456.63" y="1741.16" width="61.23" height="13.74" fill="#eba8a3"/>
<rect x="517.56" y="1741.16" width="61.23" height="13.74" fill="#f8e7e5"/>
<rect x="578.49" y="1741.16" width="61.23" height="13.74" fill="#f5d9d6"/>
<rect x="639.42" y="1741.16" width="61.23" height="13.74" fill="#f0f0f4"/>
<rect x="700.35" y="1741.16" width="61.23" height="13.74" fill="#93aed8"/>
<rect x="761.28" y="1741.16" width="61.23" height="13.74" fill="#d0d9eb"/>
<rect x="395.7" y="1754.6" width="61.23" height="13.74" fill="#f5d9d6"/>
<rect x="456.63" y="1754.6" width="61.23" height="13.74" fill="#edb7b2"/>
<rect x="517.56" y="1754.6" width="61.23" height="13.74" fill="#f9eae9"/>
<rect x="578.49" y="1754.6" width="61.23" height="13.74" fill="#eebbb6"/>
<rect x="639.42" y="1754.6" width="61.23" height="13.74" fill="#e8eaf2"/>
<rect x="700.35" y="1754.6" width="61.23" height="13.74" fill="#9cb4db"/>
<rect x="761.28" y="1754.6" width="61.23" height="13.74" fill="#c0cee7"/>
<rect x="395.7" y="1768.05" width="61.23" height="13.74" fill="#f6ddda"/>
<rect x="456.63" y="1768.05" width="61.23" height="13.74" fill="#edb7b2"/>
<rect x="517.56" y="1768.05" width="61.23" height="13.74" fill="#f6e0de"/>
<rect x="578.49" y="1768.05" width="61.23" height="13.74" fill="#f0c5c1"/>
<rect x="639.42" y="1768.05" width="61.23" height="13.74" fill="#f0f0f4"/>
<rect x="700.35" y="1768.05" width="61.23" height="13.74" fill="#8ba8d6"/>
<rect x="761.28" y="1768.05" width="61.23" height="13.74" fill="#c0cee7"/>
<rect x="395.7" y="1781.49" width="61.23" height="13.74" fill="#ecb0ab"/>
<rect x="456.63" y="1781.49" width="61.23" height="13.74" fill="#edb7b2"/>
<rect x="517.56" y="1781.49" width="61.23" height="13.74" fill="#faf1f0"/>
<rect x="578.49" y="1781.49" width="61.23" height="13.74" fill="#f7e4e1"/>
<rect x="639.42" y="1781.49" width="61.23" height="13.74" fill="#e8eaf2"/>
<rect x="700.35" y="1781.49" width="61.23" height="13.74" fill="#a4bade"/>
<rect x="761.28" y="1781.49" width="61.23" height="13.74" fill="#c4d1e8"/>
<rect x="395.7" y="1794.94" width="61.23" height="13.74" fill="#efc1bd"/>
<rect x="456.63" y="1794.94" width="61.23" height="13.74" fill="#eaa19c"/>
<rect x="517.56" y="1794.94" width="61.23" height="13.74" fill="#faf1f0"/>
<rect x="578.49" y="1794.94" width="61.23" height="13.74" fill="#f5d9d6"/>
<rect x="639.42" y="1794.94" width="61.23" height="13.74" fill="#c0cee7"/>
<rect x="700.35" y="1794.94" width="61.23" height="13.74" fill="#acc0e0"/>
<rect x="761.28" y="1794.94" width="61.23" height="13.74" fill="#c4d1e8"/>
<rect x="395.7" y="1808.38" width="61.23" height="13.74" fill="#f5d9d6"/>
<rect x="456.63" y="1808.38" width="61.23" height="13.74" fill="#e68782"/>
<rect x="517.56" y="1808.38" width="61.23" height="13.74" fill="#faf1f0"/>
<rect x="578.49" y="1808.38" width="61.23" height="13.74" fill="#fcf8f7"/>
<rect x="639.42" y="1808.38" width="61.23" height="13.74" fill="#dce2ee"/>
<rect x="700.35" y="1808.38" width="61.23" height="13.74" fill="#b0c2e2"/>
<rect x="761.28" y="1808.38" width="61.23" height="13.74" fill="#d0d9eb"/>
<rect x="395.7" y="1821.82" width="61.23" height="13.74" fill="#f5d9d6"/>
<rect x="456.63" y="1821.82" width="61.23" height="13.74" fill="#e57c77"/>
<rect x="517.56" y="1821.82" width="61.23" height="13.74" fill="#f4f2f5"/>
<rect x="578.49" y="1821.82" width="61.23" height="13.74" fill="#f4f2f5"/>
<rect x="639.42" y="1821.82" width="61.23" height="13.74" fill="#f4f2f5"/>
<rect x="700.35" y="1821.82" width="61.23" height="13.74" fill="#b0c2e2"/>
<rect x="761.28" y="1821.82" width="61.23" height="13.74" fill="#d0d9eb"/>
<rect x="395.7" y="1835.27" width="61.23" height="13.74" fill="#f5d9d6"/>
<rect x="456.63" y="1835.27" width="61.23" height="13.74" fill="#eaa19c"/>
<rect x="517.56" y="1835.27" width="61.23" height="13.74" fill="#fbf5f3"/>
<rect x="578.49" y="1835.27" width="61.23" height="13.74" fill="#fcf7f6"/>
<rect x="639.42" y="1835.27" width="61.23" height="13.74" fill="#f6ddda"/>
<rect x="700.35" y="1835.27" width="61.23" height="13.74" fill="#a4bade"/>
<rect x="761.28" y="1835.27" width="61.23" height="13.74" fill="#c4d1e8"/>
<rect x="395.7" y="1848.71" width="61.23" height="13.74" fill="#f4f2f5"/>
<rect x="456.63" y="1848.71" width="61.23" height="13.74" fill="#e89691"/>
<rect x="517.56" y="1848.71" width="61.23" height="13.74" fill="#fbf5f3"/>
<rect x="578.49" y="1848.71" width="61.23" height="13.74" fill="#f6ddda"/>
<rect x="639.42" y="1848.71" width="61.23" height="13.74" fill="#f8e7e5"/>
<rect x="700.35" y="1848.71" width="61.23" height="13.74" fill="#a0b7dc"/>
<rect x="761.28" y="1848.71" width="61.23" height="13.74" fill="#d4dcec"/>
<rect x="395.7" y="1862.16" width="61.23" height="13.74" fill="#f4f2f5"/>
<rect x="456.63" y="1862.16" width="61.23" height="13.74" fill="#e89691"/>
<rect x="517.56" y="1862.16" width="61.23" height="13.74" fill="#fcf8f7"/>
<rect x="578.49" y="1862.16" width="61.23" height="13.74" fill="#f5d9d6"/>
<rect x="639.42" y="1862.16" width="61.23" height="13.74" fill="#f7e4e1"/>
<rect x="700.35" y="1862.16" width="61.23" height="13.74" fill="#a8bddf"/>
<rect x="761.28" y="1862.16" width="61.23" height="13.74" fill="#ccd6ea"/>
<text transform="translate(389.1,1214.82) rotate(0) scale(1.22,1)" font-size="13.3" text-anchor="end" stroke-width="0.12">ANGIOGENESIS</text>
<text transform="translate(389.1,1228.27) rotate(0) scale(1.22,1)" font-size="13.3" text-anchor="end" stroke-width="0.12">APICAL−SURFACE</text>
<text transform="translate(389.1,1241.71) rotate(0) scale(1.22,1)" font-size="13.3" text-anchor="end" stroke-width="0.12">UNFOLDED−PROTEIN−RESPONSE</text>
<text transform="translate(389.1,1255.15) rotate(0) scale(1.22,1)" font-size="13.3" text-anchor="end" stroke-width="0.12">COAGULATION</text>
<text transform="translate(389.1,1268.6) rotate(0) scale(1.22,1)" font-size="13.3" text-anchor="end" stroke-width="0.12">APOPTOSIS</text>
<text transform="translate(389.1,1282.04) rotate(0) scale(1.22,1)" font-size="13.3" text-anchor="end" stroke-width="0.12">TGF−BETA−SIGNALING</text>
<text transform="translate(389.1,1295.49) rotate(0) scale(1.22,1)" font-size="13.3" text-anchor="end" stroke-width="0.12">ADIPOGENESIS</text>
<text transform="translate(389.1,1308.93) rotate(0) scale(1.22,1)" font-size="13.3" text-anchor="end" stroke-width="0.12">APICAL−JUNCTION</text>
<text transform="translate(389.1,1322.37) rotate(0) scale(1.22,1)" font-size="13.3" text-anchor="end" stroke-width="0.12">ANDROGEN−RESPONSE</text>
<text transform="translate(389.1,1335.82) rotate(0) scale(1.22,1)" font-size="13.3" text-anchor="end" stroke-width="0.12">HYPOXIA</text>
<text transform="translate(389.1,1349.26) rotate(0) scale(1.22,1)" font-size="13.3" text-anchor="end" stroke-width="0.12">INTERFERON−ALPHA−RESPONSE</text>
<text transform="translate(389.1,1362.71) rotate(0) scale(1.22,1)" font-size="13.3" text-anchor="end" stroke-width="0.12">P53−PATHWAY</text>
<text transform="translate(389.1,1376.15) rotate(0) scale(1.22,1)" font-size="13.3" text-anchor="end" stroke-width="0.12">PROTEIN−SECRETION</text>
<text transform="translate(389.1,1389.59) rotate(0) scale(1.22,1)" font-size="13.3" text-anchor="end" stroke-width="0.12">HEME−METABOLISM</text>
<text transform="translate(389.1,1403.04) rotate(0) scale(1.22,1)" font-size="13.3" text-anchor="end" stroke-width="0.12">UV−RESPONSE−DN</text>
<text transform="translate(389.1,1416.48) rotate(0) scale(1.22,1)" font-size="13.3" text-anchor="end" stroke-width="0.12">ALLOGRAFT−REJECTION</text>
<text transform="translate(389.1,1429.93) rotate(0) scale(1.22,1)" font-size="13.3" text-anchor="end" stroke-width="0.12">INTERFERON−GAMMA−RESPONSE</text>
<text transform="translate(389.1,1443.37) rotate(0) scale(1.22,1)" font-size="13.3" text-anchor="end" stroke-width="0.12">UV−RESPONSE−UP</text>
<text transform="translate(389.1,1456.81) rotate(0) scale(1.22,1)" font-size="13.3" text-anchor="end" stroke-width="0.12">KRAS−SIGNALING−UP</text>
<text transform="translate(389.1,1470.26) rotate(0) scale(1.22,1)" font-size="13.3" text-anchor="end" stroke-width="0.12">PI3K−AKT−MTOR−SIGNALING</text>
<text transform="translate(389.1,1483.7) rotate(0) scale(1.22,1)" font-size="13.3" text-anchor="end" stroke-width="0.12">TNFA−SIGNALING−VIA−NFKB</text>
<text transform="translate(389.1,1497.15) rotate(0) scale(1.22,1)" font-size="13.3" text-anchor="end" stroke-width="0.12">IL6−JAK−STAT3−SIGNALING</text>
<text transform="translate(389.1,1510.59) rotate(0) scale(1.22,1)" font-size="13.3" text-anchor="end" stroke-width="0.12">INFLAMMATORY−RESPONSE</text>
<text transform="translate(389.1,1524.03) rotate(0) scale(1.22,1)" font-size="13.3" text-anchor="end" stroke-width="0.12">EPITHELIAL−MESENCHYMAL−TRANSITION</text>
<text transform="translate(389.1,1537.48) rotate(0) scale(1.22,1)" font-size="13.3" text-anchor="end" stroke-width="0.12">COMPLEMENT</text>
<text transform="translate(389.1,1550.92) rotate(0) scale(1.22,1)" font-size="13.3" text-anchor="end" stroke-width="0.12">NOTCH−SIGNALING</text>
<text transform="translate(389.1,1564.37) rotate(0) scale(1.22,1)" font-size="13.3" text-anchor="end" stroke-width="0.12">HEDGEHOG−SIGNALING</text>
<text transform="translate(389.1,1577.81) rotate(0) scale(1.22,1)" font-size="13.3" text-anchor="end" stroke-width="0.12">GLYCOLYSIS</text>
<text transform="translate(389.1,1591.25) rotate(0) scale(1.22,1)" font-size="13.3" text-anchor="end" stroke-width="0.12">KRAS−SIGNALING−DN</text>
<text transform="translate(389.1,1604.7) rotate(0) scale(1.22,1)" font-size="13.3" text-anchor="end" stroke-width="0.12">E2F−TARGETS</text>
<text transform="translate(389.1,1618.14) rotate(0) scale(1.22,1)" font-size="13.3" text-anchor="end" stroke-width="0.12">G2M−CHECKPOINT</text>
<text transform="translate(389.1,1631.59) rotate(0) scale(1.22,1)" font-size="13.3" text-anchor="end" stroke-width="0.12">BILE−ACID−METABOLISM</text>
<text transform="translate(389.1,1645.03) rotate(0) scale(1.22,1)" font-size="13.3" text-anchor="end" stroke-width="0.12">XENOBIOTIC−METABOLISM</text>
<text transform="translate(389.1,1658.47) rotate(0) scale(1.22,1)" font-size="13.3" text-anchor="end" stroke-width="0.12">PANCREAS−BETA−CELLS</text>
<text transform="translate(389.1,1671.92) rotate(0) scale(1.22,1)" font-size="13.3" text-anchor="end" stroke-width="0.12">PEROXISOME</text>
<text transform="translate(389.1,1685.36) rotate(0) scale(1.22,1)" font-size="13.3" text-anchor="end" stroke-width="0.12">CHOLESTEROL−HOMEOSTASIS</text>
<text transform="translate(389.1,1698.81) rotate(0) scale(1.22,1)" font-size="13.3" text-anchor="end" stroke-width="0.12">REACTIVE−OXYGEN−SPECIES−PATHWAY</text>
<text transform="translate(389.1,1712.25) rotate(0) scale(1.22,1)" font-size="13.3" text-anchor="end" stroke-width="0.12">WNT−BETA−CATENIN−SIGNALING</text>
<text transform="translate(389.1,1725.69) rotate(0) scale(1.22,1)" font-size="13.3" text-anchor="end" stroke-width="0.12">IL2−STAT5−SIGNALING</text>
<text transform="translate(389.1,1739.14) rotate(0) scale(1.22,1)" font-size="13.3" text-anchor="end" stroke-width="0.12">MYOGENESIS</text>
<text transform="translate(389.1,1752.58) rotate(0) scale(1.22,1)" font-size="13.3" text-anchor="end" stroke-width="0.12">MTORC1−SIGNALING</text>
<text transform="translate(389.1,1766.03) rotate(0) scale(1.22,1)" font-size="13.3" text-anchor="end" stroke-width="0.12">FATTY−ACID−METABOLISM</text>
<text transform="translate(389.1,1779.47) rotate(0) scale(1.22,1)" font-size="13.3" text-anchor="end" stroke-width="0.12">OXIDATIVE−PHOSPHORYLATION</text>
<text transform="translate(389.1,1792.91) rotate(0) scale(1.22,1)" font-size="13.3" text-anchor="end" stroke-width="0.12">ESTROGEN−RESPONSE−EARLY</text>
<text transform="translate(389.1,1806.36) rotate(0) scale(1.22,1)" font-size="13.3" text-anchor="end" stroke-width="0.12">ESTROGEN−RESPONSE−LATE</text>
<text transform="translate(389.1,1819.8) rotate(0) scale(1.22,1)" font-size="13.3" text-anchor="end" stroke-width="0.12">MITOTIC−SPINDLE</text>
<text transform="translate(389.1,1833.25) rotate(0) scale(1.22,1)" font-size="13.3" text-anchor="end" stroke-width="0.12">SPERMATOGENESIS</text>
<text transform="translate(389.1,1846.69) rotate(0) scale(1.22,1)" font-size="13.3" text-anchor="end" stroke-width="0.12">DNA−REPAIR</text>
<text transform="translate(389.1,1860.13) rotate(0) scale(1.22,1)" font-size="13.3" text-anchor="end" stroke-width="0.12">MYC−TARGETS−V1</text>
<text transform="translate(389.1,1873.58) rotate(0) scale(1.22,1)" font-size="13.3" text-anchor="end" stroke-width="0.12">MYC−TARGETS−V2</text>
<text transform="translate(432.66,1884.3) rotate(-90) scale(1,1.16)" font-size="22.8" text-anchor="end">VCAM1+ KC</text>
<text transform="translate(493.59,1884.3) rotate(-90) scale(1,1.16)" font-size="22.8" text-anchor="end">MKI67+ Mac</text>
<text transform="translate(554.52,1884.3) rotate(-90) scale(1,1.16)" font-size="22.8" text-anchor="end">DTNA+ Mac</text>
<text transform="translate(615.45,1884.3) rotate(-90) scale(1,1.16)" font-size="22.8" text-anchor="end">mDC</text>
<text transform="translate(676.38,1884.3) rotate(-90) scale(1,1.16)" font-size="22.8" text-anchor="end">pDC</text>
<text transform="translate(737.32,1884.3) rotate(-90) scale(1,1.16)" font-size="22.8" text-anchor="end">SAA1+ KC</text>
<text transform="translate(798.25,1884.3) rotate(-90) scale(1,1.16)" font-size="22.8" text-anchor="end">VCAN+ Mono</text>
<path d="M548.02,1200.6 L548.02,1167.2 M548.02,1167.2 L608.95,1167.2 M608.95,1167.2 L608.95,1200.6 M487.09,1200.6 L487.09,1157.1 M487.09,1157.1 L578.49,1157.1 M578.49,1157.1 L578.49,1167.2 M426.16,1200.6 L426.16,1142.3 M426.16,1142.3 L532.79,1142.3 M532.79,1142.3 L532.79,1157.1 M730.82,1200.6 L730.82,1160.3 M730.82,1160.3 L791.75,1160.3 M791.75,1160.3 L791.75,1200.6 M669.88,1200.6 L669.88,1139.8 M669.88,1139.8 L761.28,1139.8 M761.28,1139.8 L761.28,1160.3 M479.48,1142.3 L479.48,1095.1 M479.48,1095.1 L715.58,1095.1 M715.58,1095.1 L715.58,1139.8" fill="none" stroke="#000" stroke-width="1.9" stroke-linecap="square"/>
<path d="M824.9,1223.57 L856.5,1223.57 L856.5,1237.01 L824.9,1237.01 M824.9,1210.12 L871.4,1210.12 L871.4,1230.29 L856.5,1230.29 M824.9,1263.9 L840.6,1263.9 L840.6,1277.34 L824.9,1277.34 M824.9,1290.79 L838.3,1290.79 L838.3,1304.23 L824.9,1304.23 M824.9,1317.67 L838.9,1317.67 L838.9,1331.12 L824.9,1331.12 M838.3,1297.51 L846,1297.51 L846,1324.4 L838.9,1324.4 M840.6,1270.62 L852.1,1270.62 L852.1,1310.95 L846,1310.95 M824.9,1344.56 L842.1,1344.56 L842.1,1358.01 L824.9,1358.01 M824.9,1384.89 L835,1384.89 L835,1398.34 L824.9,1398.34 M824.9,1371.45 L847.9,1371.45 L847.9,1391.62 L835,1391.62 M842.1,1351.28 L857.1,1351.28 L857.1,1381.53 L847.9,1381.53 M824.9,1411.78 L846.5,1411.78 L846.5,1425.23 L824.9,1425.23 M824.9,1452.11 L843.1,1452.11 L843.1,1465.56 L824.9,1465.56 M824.9,1438.67 L847.5,1438.67 L847.5,1458.84 L843.1,1458.84 M846.5,1418.5 L860,1418.5 L860,1448.75 L847.5,1448.75 M857.1,1366.41 L865.1,1366.41 L865.1,1433.63 L860,1433.63 M852.1,1290.79 L867,1290.79 L867,1400.02 L865.1,1400.02 M824.9,1492.45 L846,1492.45 L846,1505.89 L824.9,1505.89 M824.9,1479 L851.3,1479 L851.3,1499.17 L846,1499.17 M824.9,1532.78 L838.3,1532.78 L838.3,1546.22 L824.9,1546.22 M824.9,1519.33 L857.4,1519.33 L857.4,1539.5 L838.3,1539.5 M824.9,1573.11 L833.5,1573.11 L833.5,1586.55 L824.9,1586.55 M824.9,1559.67 L861.5,1559.67 L861.5,1579.83 L833.5,1579.83 M857.4,1529.42 L873.6,1529.42 L873.6,1569.75 L861.5,1569.75 M851.3,1489.09 L875.5,1489.09 L875.5,1549.58 L873.6,1549.58 M867,1345.4 L881.6,1345.4 L881.6,1519.33 L875.5,1519.33 M824.9,1653.77 L845.6,1653.77 L845.6,1667.22 L824.9,1667.22 M824.9,1694.11 L841.9,1694.11 L841.9,1707.55 L824.9,1707.55 M824.9,1680.66 L853.1,1680.66 L853.1,1700.83 L841.9,1700.83 M845.6,1660.5 L857.8,1660.5 L857.8,1690.75 L853.1,1690.75 M824.9,1626.89 L852.7,1626.89 L852.7,1640.33 L824.9,1640.33 M852.7,1633.61 L875.1,1633.61 L875.1,1675.62 L857.8,1675.62 M824.9,1761.33 L836.3,1761.33 L836.3,1774.77 L824.9,1774.77 M824.9,1747.88 L843.8,1747.88 L843.8,1768.05 L836.3,1768.05 M824.9,1788.21 L848.8,1788.21 L848.8,1801.66 L824.9,1801.66 M843.8,1757.97 L855.3,1757.97 L855.3,1794.94 L848.8,1794.94 M824.9,1815.1 L838.2,1815.1 L838.2,1828.55 L824.9,1828.55 M824.9,1855.43 L832,1855.43 L832,1868.88 L824.9,1868.88 M824.9,1841.99 L851.2,1841.99 L851.2,1862.16 L832,1862.16 M838.2,1821.82 L856.3,1821.82 L856.3,1852.07 L851.2,1852.07 M855.3,1776.45 L868,1776.45 L868,1836.95 L856.3,1836.95 M824.9,1720.99 L854,1720.99 L854,1734.44 L824.9,1734.44 M854,1727.72 L878.3,1727.72 L878.3,1806.7 L868,1806.7 M875.1,1654.61 L892.6,1654.61 L892.6,1767.21 L878.3,1767.21 M824.9,1600 L833.5,1600 L833.5,1613.44 L824.9,1613.44 M833.5,1606.72 L896.9,1606.72 L896.9,1710.91 L892.6,1710.91 M881.6,1432.37 L915.2,1432.37 L915.2,1658.82 L896.9,1658.82 M824.9,1250.45 L928.3,1250.45 L928.3,1545.59 L915.2,1545.59 M871.4,1220.2 L942.1,1220.2 L942.1,1398.02 L928.3,1398.02" fill="none" stroke="#000" stroke-width="1.7" stroke-linejoin="miter" stroke-linecap="square"/>
<text x="955.4" y="1478.2" font-size="22.5" font-weight="bold">zscore</text>
<defs><linearGradient id="gF" x1="0" x2="0" y1="0" y2="1"><stop offset="0" stop-color="#e3716c"/><stop offset="0.27" stop-color="#edb7b2"/><stop offset="0.5" stop-color="#fdfafa"/><stop offset="0.73" stop-color="#bccbe6"/><stop offset="1" stop-color="#7799ce"/></linearGradient></defs>
<rect x="954.2" y="1489.9" width="28.7" height="126.7" fill="url(#gF)"/>
<line x1="954.2" y1="1494.5" x2="961.4" y2="1494.5" stroke="#fff" stroke-width="1.3"/>
<line x1="975.9" y1="1494.5" x2="982.9" y2="1494.5" stroke="#fff" stroke-width="1.3"/>
<line x1="954.2" y1="1523.9" x2="961.4" y2="1523.9" stroke="#fff" stroke-width="1.3"/>
<line x1="975.9" y1="1523.9" x2="982.9" y2="1523.9" stroke="#fff" stroke-width="1.3"/>
<line x1="954.2" y1="1582.6" x2="961.4" y2="1582.6" stroke="#fff" stroke-width="1.3"/>
<line x1="975.9" y1="1582.6" x2="982.9" y2="1582.6" stroke="#fff" stroke-width="1.3"/>
<line x1="954.2" y1="1611.5" x2="961.4" y2="1611.5" stroke="#fff" stroke-width="1.3"/>
<line x1="975.9" y1="1611.5" x2="982.9" y2="1611.5" stroke="#fff" stroke-width="1.3"/>
<text x="988.9" y="1502.1" font-size="21.5">2</text>
<text x="988.9" y="1531.5" font-size="21.5">1</text>
<text x="988.9" y="1560.8" font-size="21.5">0</text>
<text x="988.9" y="1590.2" font-size="21.5">−1</text>
<text x="988.9" y="1619.1" font-size="21.5">−2</text>
<rect x="1117.1" y="1164.1" width="158.95" height="23.3" fill="#4a5aa8"/>
<rect x="1276.05" y="1164.1" width="158.95" height="23.3" fill="#ce3c33"/>
<rect x="1117.1" y="1192" width="79.68" height="23.5" fill="#507bb8"/>
<rect x="1196.57" y="1192" width="79.68" height="23.5" fill="#d92e2a"/>
<rect x="1276.05" y="1192" width="79.68" height="23.5" fill="#507bb8"/>
<rect x="1355.53" y="1192" width="79.68" height="23.5" fill="#d92e2a"/>
<text x="1440.5" y="1180.9" font-size="13.1">Cluster</text>
<text x="1440.5" y="1209.1" font-size="13.1">Direction</text>
<rect x="1118.3" y="1221.7" width="77.08" height="52.97" fill="#e46c6a"/>
<text x="1156.84" y="1252.98" font-size="16.2" text-anchor="middle">**</text>
<rect x="1197.77" y="1221.7" width="77.08" height="52.97" fill="#d3e1e7"/>
<rect x="1277.25" y="1221.7" width="77.08" height="52.97" fill="#d3e1e7"/>
<rect x="1356.73" y="1221.7" width="77.08" height="52.97" fill="#e46c6a"/>
<text x="1395.26" y="1252.98" font-size="16.2" text-anchor="middle">**</text>
<text x="1440.5" y="1255.28" font-size="19.7">HALLMARK−ANGIOGENESIS</text>
<rect x="1118.3" y="1277.07" width="77.08" height="52.97" fill="#e46c6a"/>
<text x="1156.84" y="1308.35" font-size="16.2" text-anchor="middle">***</text>
<rect x="1197.77" y="1277.07" width="77.08" height="52.97" fill="#d3e1e7"/>
<rect x="1277.25" y="1277.07" width="77.08" height="52.97" fill="#d3e1e7"/>
<rect x="1356.73" y="1277.07" width="77.08" height="52.97" fill="#e46c6a"/>
<text x="1395.26" y="1308.35" font-size="16.2" text-anchor="middle">***</text>
<text x="1440.5" y="1310.65" font-size="19.7">HALLMARK−XENOBIOTIC−METABOLISM</text>
<rect x="1118.3" y="1332.44" width="77.08" height="52.97" fill="#e46c6a"/>
<text x="1156.84" y="1363.72" font-size="16.2" text-anchor="middle">****</text>
<rect x="1197.77" y="1332.44" width="77.08" height="52.97" fill="#d3e1e7"/>
<rect x="1277.25" y="1332.44" width="77.08" height="52.97" fill="#d3e1e7"/>
<rect x="1356.73" y="1332.44" width="77.08" height="52.97" fill="#e46c6a"/>
<text x="1395.26" y="1363.72" font-size="16.2" text-anchor="middle">****</text>
<text x="1440.5" y="1366.02" font-size="19.7">HALLMARK−COAGULATION</text>
<rect x="1118.3" y="1387.81" width="77.08" height="52.97" fill="#e46c6a"/>
<text x="1156.84" y="1419.09" font-size="16.2" text-anchor="middle">***</text>
<rect x="1197.77" y="1387.81" width="77.08" height="52.97" fill="#d3e1e7"/>
<rect x="1277.25" y="1387.81" width="77.08" height="52.97" fill="#d3e1e7"/>
<rect x="1356.73" y="1387.81" width="77.08" height="52.97" fill="#e46c6a"/>
<text x="1395.26" y="1419.09" font-size="16.2" text-anchor="middle">***</text>
<text x="1440.5" y="1421.39" font-size="19.7">HALLMARK−CHOLESTEROL−HOMEOSTASIS</text>
<rect x="1118.3" y="1443.18" width="77.08" height="52.97" fill="#d3e1e7"/>
<rect x="1197.77" y="1443.18" width="77.08" height="52.97" fill="#d3e1e7"/>
<rect x="1277.25" y="1443.18" width="77.08" height="52.97" fill="#d3e1e7"/>
<rect x="1356.73" y="1443.18" width="77.08" height="52.97" fill="#d3e1e7"/>
<text x="1440.5" y="1476.76" font-size="19.7">HALLMARK−HYPOXIA</text>
<rect x="1118.3" y="1498.55" width="77.08" height="52.97" fill="#d3e1e7"/>
<rect x="1197.77" y="1498.55" width="77.08" height="52.97" fill="#d3e1e7"/>
<rect x="1277.25" y="1498.55" width="77.08" height="52.97" fill="#d3e1e7"/>
<rect x="1356.73" y="1498.55" width="77.08" height="52.97" fill="#d3e1e7"/>
<text x="1440.5" y="1532.13" font-size="19.7">HALLMARK−FATTY−ACID−METABOLISM</text>
<rect x="1118.3" y="1553.92" width="77.08" height="52.97" fill="#d3e1e7"/>
<rect x="1197.77" y="1553.92" width="77.08" height="52.97" fill="#d3e1e7"/>
<rect x="1277.25" y="1553.92" width="77.08" height="52.97" fill="#d3e1e7"/>
<rect x="1356.73" y="1553.92" width="77.08" height="52.97" fill="#d3e1e7"/>
<text x="1440.5" y="1587.5" font-size="19.7">HALLMARK−PEROXISOME</text>
<rect x="1118.3" y="1609.29" width="77.08" height="52.97" fill="#d3e1e7"/>
<rect x="1197.77" y="1609.29" width="77.08" height="52.97" fill="#d3e1e7"/>
<rect x="1277.25" y="1609.29" width="77.08" height="52.97" fill="#d3e1e7"/>
<rect x="1356.73" y="1609.29" width="77.08" height="52.97" fill="#d3e1e7"/>
<text x="1440.5" y="1642.87" font-size="19.7">HALLMARK−MTORC1−SIGNALING</text>
<rect x="1118.3" y="1664.66" width="77.08" height="52.97" fill="#d3e1e7"/>
<rect x="1197.77" y="1664.66" width="77.08" height="52.97" fill="#d3e1e7"/>
<rect x="1277.25" y="1664.66" width="77.08" height="52.97" fill="#d3e1e7"/>
<rect x="1356.73" y="1664.66" width="77.08" height="52.97" fill="#d3e1e7"/>
<text x="1440.5" y="1698.24" font-size="19.7">HALLMARK−BILE−ACID−METABOLISM</text>
<rect x="1118.3" y="1720.03" width="77.08" height="52.97" fill="#d3e1e7"/>
<rect x="1197.77" y="1720.03" width="77.08" height="52.97" fill="#d3e1e7"/>
<rect x="1277.25" y="1720.03" width="77.08" height="52.97" fill="#d3e1e7"/>
<rect x="1356.73" y="1720.03" width="77.08" height="52.97" fill="#d3e1e7"/>
<text x="1440.5" y="1753.61" font-size="19.7">HALLMARK−ANDROGEN−RESPONSE</text>
<path d="M1114.6,1248.18 L1114.6,1414.3 M1114.6,1469.66 L1114.6,1746.51 M1114.6,1295.9 L1067.7,1295.9 L1067.7,1522.5 L1114.6,1522.5" fill="none" stroke="#000" stroke-width="1.4"/>
<text x="1875.7" y="1344.2" font-size="16.3" font-weight="bold">Cluster</text>
<rect x="1875.7" y="1354.6" width="17.5" height="17.2" fill="#4a5aa8"/>
<text x="1898.8" y="1369.4" font-size="16.8">MASLD</text>
<rect x="1875.7" y="1373.6" width="17.5" height="17.2" fill="#ce3c33"/>
<text x="1898.8" y="1388.1" font-size="16.8">MASH</text>
<text x="1875.7" y="1422.1" font-size="16.3" font-weight="bold">Direction</text>
<rect x="1875.7" y="1432.3" width="17.5" height="17.2" fill="#507bb8"/>
<text x="1898.8" y="1446.7" font-size="16.8">down</text>
<rect x="1875.7" y="1451.3" width="17.5" height="17.2" fill="#d92e2a"/>
<text x="1898.8" y="1465.3" font-size="16.8">up</text>
<text x="1875.7" y="1499.8" font-size="16.3" font-weight="bold">RRA</text>
<rect x="1875.7" y="1510" width="17.5" height="17.2" fill="#d3e1e7"/>
<text x="1898.8" y="1524" font-size="16.8">no significant</text>
<rect x="1875.7" y="1529" width="17.5" height="17.2" fill="#e46c6a"/>
<text x="1898.8" y="1542.7" font-size="16.8">significant</text>
<text x="1875.7" y="1576.8" font-size="16.3" font-weight="bold">P Value</text>
<rect x="1875.7" y="1587.4" width="17.5" height="73.6" fill="#ebebeb"/>
<text x="1884.5" y="1603.4" font-size="19.5" text-anchor="middle">*</text>
<text x="1898.8" y="1601.4" font-size="16.8">&lt; 0.05</text>
<text x="1884.5" y="1622.03" font-size="19.5" text-anchor="middle">**</text>
<text x="1898.8" y="1620.03" font-size="16.8">&lt; 0.01</text>
<text x="1884.5" y="1640.66" font-size="19.5" text-anchor="middle">***</text>
<text x="1898.8" y="1638.66" font-size="16.8">&lt; 0.001</text>
<text x="1884.5" y="1659.29" font-size="19.5" text-anchor="middle">****</text>
<text x="1898.8" y="1657.29" font-size="16.8">&lt; 0.0001</text>
</svg></body></html>
